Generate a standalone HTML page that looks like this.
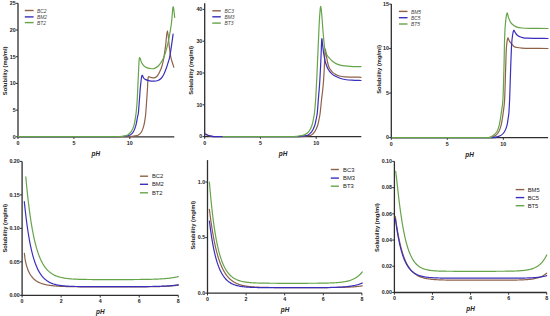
<!DOCTYPE html>
<html><head><meta charset="utf-8"><style>
html,body{margin:0;padding:0;background:#fff;}
body{width:550px;height:316px;overflow:hidden;}
svg{display:block;}
text{font-family:"Liberation Sans",sans-serif;fill:#222;}
.t{font-size:5.3px;font-weight:bold;}
.yl{font-size:5.8px;font-weight:bold;}
.ph{font-size:6.4px;font-style:italic;font-weight:bold;}
.lgi{font-size:4.9px;font-style:italic;fill:#444;}
.lg{font-size:5.8px;}
</style></head><body>
<svg width="550" height="316" viewBox="0 0 550 316">
<rect width="550" height="316" fill="#fff"/>
<line x1="18.00" y1="3.30" x2="18.00" y2="137.40" stroke="#2e2e2e" stroke-width="1.3"/>
<line x1="17.40" y1="136.80" x2="174.30" y2="136.80" stroke="#2e2e2e" stroke-width="1.3"/>
<line x1="15.80" y1="136.80" x2="18.00" y2="136.80" stroke="#2e2e2e" stroke-width="1"/>
<text x="15.60" y="138.64" text-anchor="end" class="t">0</text>
<line x1="15.80" y1="110.10" x2="18.00" y2="110.10" stroke="#2e2e2e" stroke-width="1"/>
<text x="15.60" y="111.94" text-anchor="end" class="t">5</text>
<line x1="15.80" y1="83.40" x2="18.00" y2="83.40" stroke="#2e2e2e" stroke-width="1"/>
<text x="15.60" y="85.24" text-anchor="end" class="t">10</text>
<line x1="15.80" y1="56.70" x2="18.00" y2="56.70" stroke="#2e2e2e" stroke-width="1"/>
<text x="15.60" y="58.54" text-anchor="end" class="t">15</text>
<line x1="15.80" y1="30.00" x2="18.00" y2="30.00" stroke="#2e2e2e" stroke-width="1"/>
<text x="15.60" y="31.84" text-anchor="end" class="t">20</text>
<line x1="15.80" y1="3.30" x2="18.00" y2="3.30" stroke="#2e2e2e" stroke-width="1"/>
<text x="15.60" y="5.14" text-anchor="end" class="t">25</text>
<line x1="18.00" y1="136.80" x2="18.00" y2="139.00" stroke="#2e2e2e" stroke-width="1"/>
<text x="18.00" y="144.94" text-anchor="middle" class="t">0</text>
<line x1="73.90" y1="136.80" x2="73.90" y2="139.00" stroke="#2e2e2e" stroke-width="1"/>
<text x="73.90" y="144.94" text-anchor="middle" class="t">5</text>
<line x1="129.80" y1="136.80" x2="129.80" y2="139.00" stroke="#2e2e2e" stroke-width="1"/>
<text x="129.80" y="144.94" text-anchor="middle" class="t">10</text>
<text transform="translate(6.80,70.85) rotate(-90)" text-anchor="middle" class="yl">Solubility (mg/ml)</text>
<text x="95.80" y="155.60" text-anchor="middle" class="ph">pH</text>
<path d="M18.00,136.60 C31.67,136.60 82.67,136.60 100.00,136.60 C117.33,136.60 117.00,136.62 122.00,136.60 C127.00,136.58 128.00,136.60 130.00,136.50 C132.00,136.40 132.60,136.27 134.00,136.00 C135.40,135.73 137.13,135.62 138.40,134.90 C139.67,134.18 140.68,133.30 141.60,131.70 C142.52,130.10 143.30,127.58 143.90,125.30 C144.50,123.02 144.88,120.10 145.20,118.00 C145.52,115.90 145.55,115.70 145.80,112.70 C146.05,109.70 146.42,104.12 146.70,100.00 C146.98,95.88 147.25,91.75 147.50,88.00 C147.75,84.25 147.70,79.28 148.20,77.50 C148.70,75.72 149.53,77.25 150.50,77.30 C151.47,77.35 152.92,77.98 154.00,77.80 C155.08,77.62 156.10,77.08 157.00,76.20 C157.90,75.32 158.57,74.20 159.40,72.50 C160.23,70.80 161.23,68.58 162.00,66.00 C162.77,63.42 163.40,60.40 164.00,57.00 C164.60,53.60 165.03,49.97 165.60,45.60 C166.17,41.23 166.80,30.80 167.40,30.80 C168.00,30.80 168.63,41.23 169.20,45.60 C169.77,49.97 170.28,54.18 170.80,57.00 C171.32,59.82 171.80,60.80 172.30,62.50 C172.80,64.20 173.55,66.42 173.80,67.20" fill="none" stroke="#8e6248" stroke-width="1.20" stroke-linejoin="round" stroke-linecap="round"/>
<path d="M18.00,136.60 C31.67,136.60 84.00,136.60 100.00,136.60 C116.00,136.60 110.33,136.62 114.00,136.60 C117.67,136.58 120.00,136.60 122.00,136.50 C124.00,136.40 124.63,136.27 126.00,136.00 C127.37,135.73 128.97,135.62 130.20,134.90 C131.43,134.18 132.45,133.30 133.40,131.70 C134.35,130.10 135.22,127.75 135.90,125.30 C136.58,122.85 137.08,119.10 137.50,117.00 C137.92,114.90 138.08,115.53 138.40,112.70 C138.72,109.87 139.05,104.45 139.40,100.00 C139.75,95.55 140.08,90.07 140.50,86.00 C140.92,81.93 141.40,76.97 141.90,75.60 C142.40,74.23 142.95,77.17 143.50,77.80 C144.05,78.43 144.15,78.88 145.20,79.40 C146.25,79.92 148.33,80.60 149.80,80.90 C151.27,81.20 152.63,81.27 154.00,81.20 C155.37,81.13 156.83,80.95 158.00,80.50 C159.17,80.05 160.08,79.42 161.00,78.50 C161.92,77.58 162.62,76.70 163.50,75.00 C164.38,73.30 165.50,70.47 166.30,68.30 C167.10,66.13 167.73,63.88 168.30,62.00 C168.87,60.12 169.17,59.73 169.70,57.00 C170.23,54.27 170.93,49.40 171.50,45.60 C172.07,41.80 172.83,36.10 173.10,34.20" fill="none" stroke="#3a2fbc" stroke-width="1.20" stroke-linejoin="round" stroke-linecap="round"/>
<path d="M18.00,136.60 C31.67,136.60 84.33,136.60 100.00,136.60 C115.67,136.60 108.67,136.62 112.00,136.60 C115.33,136.58 118.00,136.58 120.00,136.50 C122.00,136.42 122.72,136.37 124.00,136.10 C125.28,135.83 126.50,135.63 127.70,134.90 C128.90,134.17 130.15,133.30 131.20,131.70 C132.25,130.10 133.25,127.92 134.00,125.30 C134.75,122.68 135.28,118.72 135.70,116.00 C136.12,113.28 136.25,111.67 136.50,109.00 C136.75,106.33 136.88,105.70 137.20,100.00 C137.52,94.30 138.03,81.78 138.40,74.80 C138.77,67.82 138.88,60.15 139.40,58.10 C139.92,56.05 140.78,61.23 141.50,62.50 C142.22,63.77 142.87,64.85 143.70,65.70 C144.53,66.55 145.48,67.15 146.50,67.60 C147.52,68.05 148.55,68.23 149.80,68.40 C151.05,68.57 152.58,69.00 154.00,68.60 C155.42,68.20 157.13,67.02 158.30,66.00 C159.47,64.98 160.05,64.00 161.00,62.50 C161.95,61.00 162.93,59.82 164.00,57.00 C165.07,54.18 166.45,49.40 167.40,45.60 C168.35,41.80 169.02,38.00 169.70,34.20 C170.38,30.40 170.93,27.37 171.50,22.80 C172.07,18.23 172.57,7.72 173.10,6.80 C173.63,5.88 174.43,15.55 174.70,17.30" fill="none" stroke="#66a44a" stroke-width="1.20" stroke-linejoin="round" stroke-linecap="round"/>
<line x1="24.80" y1="10.50" x2="33.60" y2="10.50" stroke="#8e6248" stroke-width="1.4"/>
<text x="37.00" y="12.66" class="lgi">BC2</text>
<line x1="24.80" y1="16.90" x2="33.60" y2="16.90" stroke="#3a2fbc" stroke-width="1.4"/>
<text x="37.00" y="19.06" class="lgi">BM2</text>
<line x1="24.80" y1="22.60" x2="33.60" y2="22.60" stroke="#66a44a" stroke-width="1.4"/>
<text x="37.00" y="24.76" class="lgi">BT2</text>
<line x1="204.70" y1="3.20" x2="204.70" y2="137.20" stroke="#2e2e2e" stroke-width="1.3"/>
<line x1="204.10" y1="136.60" x2="361.30" y2="136.60" stroke="#2e2e2e" stroke-width="1.3"/>
<line x1="202.50" y1="136.60" x2="204.70" y2="136.60" stroke="#2e2e2e" stroke-width="1"/>
<text x="202.30" y="138.44" text-anchor="end" class="t">0</text>
<line x1="202.50" y1="104.80" x2="204.70" y2="104.80" stroke="#2e2e2e" stroke-width="1"/>
<text x="202.30" y="106.64" text-anchor="end" class="t">10</text>
<line x1="202.50" y1="73.00" x2="204.70" y2="73.00" stroke="#2e2e2e" stroke-width="1"/>
<text x="202.30" y="74.84" text-anchor="end" class="t">20</text>
<line x1="202.50" y1="41.20" x2="204.70" y2="41.20" stroke="#2e2e2e" stroke-width="1"/>
<text x="202.30" y="43.04" text-anchor="end" class="t">30</text>
<line x1="202.50" y1="9.40" x2="204.70" y2="9.40" stroke="#2e2e2e" stroke-width="1"/>
<text x="202.30" y="11.24" text-anchor="end" class="t">40</text>
<line x1="204.70" y1="136.60" x2="204.70" y2="138.80" stroke="#2e2e2e" stroke-width="1"/>
<text x="204.70" y="144.74" text-anchor="middle" class="t">0</text>
<line x1="260.45" y1="136.60" x2="260.45" y2="138.80" stroke="#2e2e2e" stroke-width="1"/>
<text x="260.45" y="144.74" text-anchor="middle" class="t">5</text>
<line x1="316.20" y1="136.60" x2="316.20" y2="138.80" stroke="#2e2e2e" stroke-width="1"/>
<text x="316.20" y="144.74" text-anchor="middle" class="t">10</text>
<text transform="translate(193.30,70.35) rotate(-90)" text-anchor="middle" class="yl">Solubility (mg/ml)</text>
<text x="283.00" y="156.10" text-anchor="middle" class="ph">pH</text>
<path d="M205.40,134.40 C205.67,134.52 206.40,134.87 207.00,135.10 C207.60,135.33 208.17,135.60 209.00,135.80 C209.83,136.00 210.17,136.17 212.00,136.30 C213.83,136.43 206.17,136.55 220.00,136.60 C233.83,136.65 281.17,136.63 295.00,136.60 C308.83,136.57 300.92,136.53 303.00,136.40 C305.08,136.27 306.10,136.05 307.50,135.80 C308.90,135.55 310.18,135.58 311.40,134.90 C312.62,134.22 313.75,133.30 314.80,131.70 C315.85,130.10 316.95,127.58 317.70,125.30 C318.45,123.02 318.88,120.10 319.30,118.00 C319.72,115.90 319.83,115.70 320.20,112.70 C320.57,109.70 321.08,103.78 321.50,100.00 C321.92,96.22 322.35,93.33 322.70,90.00 C323.05,86.67 323.35,83.33 323.60,80.00 C323.85,76.67 324.02,73.67 324.20,70.00 C324.38,66.33 324.53,61.47 324.70,58.00 C324.87,54.53 324.95,49.78 325.20,49.20 C325.45,48.62 325.82,52.37 326.20,54.50 C326.58,56.63 327.03,59.87 327.50,62.00 C327.97,64.13 328.38,65.87 329.00,67.30 C329.62,68.73 330.50,69.67 331.20,70.60 C331.90,71.53 332.40,72.23 333.20,72.90 C334.00,73.57 335.03,74.10 336.00,74.60 C336.97,75.10 337.50,75.53 339.00,75.90 C340.50,76.27 341.33,76.57 345.00,76.80 C348.67,77.03 358.33,77.22 361.00,77.30" fill="none" stroke="#8e6248" stroke-width="1.20" stroke-linejoin="round" stroke-linecap="round"/>
<path d="M205.40,133.90 C205.67,134.05 206.40,134.52 207.00,134.80 C207.60,135.08 208.33,135.38 209.00,135.60 C209.67,135.82 210.17,135.95 211.00,136.10 C211.83,136.25 212.50,136.42 214.00,136.50 C215.50,136.58 207.33,136.58 220.00,136.60 C232.67,136.62 276.67,136.63 290.00,136.60 C303.33,136.57 297.58,136.53 300.00,136.40 C302.42,136.27 303.13,136.05 304.50,135.80 C305.87,135.55 306.98,135.58 308.20,134.90 C309.42,134.22 310.70,133.30 311.80,131.70 C312.90,130.10 314.03,127.58 314.80,125.30 C315.57,123.02 315.98,120.10 316.40,118.00 C316.82,115.90 316.98,115.70 317.30,112.70 C317.62,109.70 317.92,104.78 318.30,100.00 C318.68,95.22 319.22,89.67 319.60,84.00 C319.98,78.33 320.33,71.33 320.60,66.00 C320.87,60.67 321.00,56.53 321.20,52.00 C321.40,47.47 321.57,39.97 321.80,38.80 C322.03,37.63 322.30,42.63 322.60,45.00 C322.90,47.37 323.17,50.25 323.60,53.00 C324.03,55.75 324.60,59.12 325.20,61.50 C325.80,63.88 326.62,65.88 327.20,67.30 C327.78,68.72 328.15,69.13 328.70,70.00 C329.25,70.87 329.62,71.58 330.50,72.50 C331.38,73.42 332.42,74.55 334.00,75.50 C335.58,76.45 338.17,77.53 340.00,78.20 C341.83,78.87 343.00,79.17 345.00,79.50 C347.00,79.83 349.33,80.03 352.00,80.20 C354.67,80.37 359.50,80.45 361.00,80.50" fill="none" stroke="#3a2fbc" stroke-width="1.20" stroke-linejoin="round" stroke-linecap="round"/>
<path d="M223.00,136.60 C232.50,136.60 268.83,136.60 280.00,136.60 C291.17,136.60 287.20,136.65 290.00,136.60 C292.80,136.55 294.97,136.45 296.80,136.30 C298.63,136.15 299.73,135.93 301.00,135.70 C302.27,135.47 303.10,135.57 304.40,134.90 C305.70,134.23 307.53,133.30 308.80,131.70 C310.07,130.10 311.20,127.58 312.00,125.30 C312.80,123.02 313.18,120.10 313.60,118.00 C314.02,115.90 314.17,115.70 314.50,112.70 C314.83,109.70 315.25,105.12 315.60,100.00 C315.95,94.88 316.28,88.33 316.60,82.00 C316.92,75.67 317.15,69.83 317.50,62.00 C317.85,54.17 318.35,42.50 318.70,35.00 C319.05,27.50 319.28,21.75 319.60,17.00 C319.92,12.25 320.25,7.00 320.60,6.50 C320.95,6.00 321.32,10.08 321.70,14.00 C322.08,17.92 322.52,25.33 322.90,30.00 C323.28,34.67 323.68,38.83 324.00,42.00 C324.32,45.17 324.33,46.87 324.80,49.00 C325.27,51.13 326.02,53.27 326.80,54.80 C327.58,56.33 328.55,57.12 329.50,58.20 C330.45,59.28 331.42,60.40 332.50,61.30 C333.58,62.20 334.58,62.93 336.00,63.60 C337.42,64.27 338.67,64.85 341.00,65.30 C343.33,65.75 346.67,66.08 350.00,66.30 C353.33,66.52 359.17,66.55 361.00,66.60" fill="none" stroke="#66a44a" stroke-width="1.20" stroke-linejoin="round" stroke-linecap="round"/>
<line x1="212.30" y1="10.80" x2="220.80" y2="10.80" stroke="#8e6248" stroke-width="1.4"/>
<text x="224.50" y="12.96" class="lgi">BC3</text>
<line x1="212.30" y1="16.80" x2="220.80" y2="16.80" stroke="#3a2fbc" stroke-width="1.4"/>
<text x="224.50" y="18.96" class="lgi">BM3</text>
<line x1="212.30" y1="23.10" x2="220.80" y2="23.10" stroke="#66a44a" stroke-width="1.4"/>
<text x="224.50" y="25.26" class="lgi">BT3</text>
<line x1="391.30" y1="4.10" x2="391.30" y2="138.20" stroke="#2e2e2e" stroke-width="1.3"/>
<line x1="390.70" y1="137.60" x2="548.10" y2="137.60" stroke="#2e2e2e" stroke-width="1.3"/>
<line x1="389.10" y1="137.60" x2="391.30" y2="137.60" stroke="#2e2e2e" stroke-width="1"/>
<text x="388.90" y="139.44" text-anchor="end" class="t">0</text>
<line x1="389.10" y1="93.10" x2="391.30" y2="93.10" stroke="#2e2e2e" stroke-width="1"/>
<text x="388.90" y="94.94" text-anchor="end" class="t">5</text>
<line x1="389.10" y1="48.60" x2="391.30" y2="48.60" stroke="#2e2e2e" stroke-width="1"/>
<text x="388.90" y="50.44" text-anchor="end" class="t">10</text>
<line x1="389.10" y1="4.10" x2="391.30" y2="4.10" stroke="#2e2e2e" stroke-width="1"/>
<text x="388.90" y="5.94" text-anchor="end" class="t">15</text>
<line x1="391.30" y1="137.60" x2="391.30" y2="139.80" stroke="#2e2e2e" stroke-width="1"/>
<text x="391.30" y="145.74" text-anchor="middle" class="t">0</text>
<line x1="447.30" y1="137.60" x2="447.30" y2="139.80" stroke="#2e2e2e" stroke-width="1"/>
<text x="447.30" y="145.74" text-anchor="middle" class="t">5</text>
<line x1="503.30" y1="137.60" x2="503.30" y2="139.80" stroke="#2e2e2e" stroke-width="1"/>
<text x="503.30" y="145.74" text-anchor="middle" class="t">10</text>
<text transform="translate(381.30,69.50) rotate(-90)" text-anchor="middle" class="yl">Solubility (mg/ml)</text>
<text x="469.50" y="156.50" text-anchor="middle" class="ph">pH</text>
<path d="M392.00,137.60 C407.33,137.60 467.50,137.63 484.00,137.60 C500.50,137.57 489.07,137.75 491.00,137.40 C492.93,137.05 494.30,136.45 495.60,135.50 C496.90,134.55 497.88,133.40 498.80,131.70 C499.72,130.00 500.50,127.58 501.10,125.30 C501.70,123.02 502.05,120.10 502.40,118.00 C502.75,115.90 502.83,115.70 503.20,112.70 C503.57,109.70 504.20,107.12 504.60,100.00 C505.00,92.88 505.30,78.67 505.60,70.00 C505.90,61.33 506.03,53.30 506.40,48.00 C506.77,42.70 507.33,39.40 507.80,38.20 C508.27,37.00 508.60,39.88 509.20,40.80 C509.80,41.72 510.60,42.77 511.40,43.70 C512.20,44.63 513.07,45.77 514.00,46.40 C514.93,47.03 515.67,47.22 517.00,47.50 C518.33,47.78 519.83,47.95 522.00,48.10 C524.17,48.25 525.67,48.33 530.00,48.40 C534.33,48.47 545.00,48.48 548.00,48.50" fill="none" stroke="#8e6248" stroke-width="1.20" stroke-linejoin="round" stroke-linecap="round"/>
<path d="M392.00,137.60 C407.67,137.60 468.95,137.63 486.00,137.60 C503.05,137.57 491.85,137.75 494.30,137.40 C496.75,137.05 499.00,136.45 500.70,135.50 C502.40,134.55 503.45,133.40 504.50,131.70 C505.55,130.00 506.38,127.58 507.00,125.30 C507.62,123.02 507.88,120.10 508.20,118.00 C508.52,115.90 508.67,115.70 508.90,112.70 C509.13,109.70 509.32,107.12 509.60,100.00 C509.88,92.88 510.27,79.17 510.60,70.00 C510.93,60.83 511.27,50.83 511.60,45.00 C511.93,39.17 512.23,37.45 512.60,35.00 C512.97,32.55 513.37,30.72 513.80,30.30 C514.23,29.88 514.67,31.72 515.20,32.50 C515.73,33.28 516.28,34.32 517.00,35.00 C517.72,35.68 518.72,36.20 519.50,36.60 C520.28,37.00 520.28,37.13 521.70,37.40 C523.12,37.67 523.62,38.02 528.00,38.20 C532.38,38.38 544.67,38.45 548.00,38.50" fill="none" stroke="#3a2fbc" stroke-width="1.20" stroke-linejoin="round" stroke-linecap="round"/>
<path d="M392.00,137.60 C407.00,137.60 465.78,137.63 482.00,137.60 C498.22,137.57 487.45,137.75 489.30,137.40 C491.15,137.05 491.83,136.45 493.10,135.50 C494.37,134.55 495.88,133.40 496.90,131.70 C497.92,130.00 498.60,127.58 499.20,125.30 C499.80,123.02 500.15,120.10 500.50,118.00 C500.85,115.90 500.90,115.70 501.30,112.70 C501.70,109.70 502.47,107.12 502.90,100.00 C503.33,92.88 503.63,79.67 503.90,70.00 C504.17,60.33 504.27,49.50 504.50,42.00 C504.73,34.50 504.88,29.80 505.30,25.00 C505.72,20.20 506.47,14.45 507.00,13.20 C507.53,11.95 507.90,15.97 508.50,17.50 C509.10,19.03 509.77,21.12 510.60,22.40 C511.43,23.68 512.43,24.42 513.50,25.20 C514.57,25.98 515.58,26.63 517.00,27.10 C518.42,27.57 519.83,27.78 522.00,28.00 C524.17,28.22 525.67,28.32 530.00,28.40 C534.33,28.48 545.00,28.48 548.00,28.50" fill="none" stroke="#66a44a" stroke-width="1.20" stroke-linejoin="round" stroke-linecap="round"/>
<line x1="398.90" y1="11.40" x2="407.50" y2="11.40" stroke="#8e6248" stroke-width="1.4"/>
<text x="411.00" y="13.56" class="lgi">BM5</text>
<line x1="398.90" y1="17.70" x2="407.50" y2="17.70" stroke="#3a2fbc" stroke-width="1.4"/>
<text x="411.00" y="19.86" class="lgi">BC5</text>
<line x1="398.90" y1="24.00" x2="407.50" y2="24.00" stroke="#66a44a" stroke-width="1.4"/>
<text x="411.00" y="26.16" class="lgi">BT5</text>
<line x1="22.10" y1="161.40" x2="22.10" y2="295.90" stroke="#2e2e2e" stroke-width="1.3"/>
<line x1="21.50" y1="295.30" x2="178.30" y2="295.30" stroke="#2e2e2e" stroke-width="1.3"/>
<line x1="19.90" y1="295.30" x2="22.10" y2="295.30" stroke="#2e2e2e" stroke-width="1"/>
<text x="19.70" y="297.14" text-anchor="end" class="t">0.00</text>
<line x1="19.90" y1="261.82" x2="22.10" y2="261.82" stroke="#2e2e2e" stroke-width="1"/>
<text x="19.70" y="263.66" text-anchor="end" class="t">0.05</text>
<line x1="19.90" y1="228.35" x2="22.10" y2="228.35" stroke="#2e2e2e" stroke-width="1"/>
<text x="19.70" y="230.19" text-anchor="end" class="t">0.10</text>
<line x1="19.90" y1="194.88" x2="22.10" y2="194.88" stroke="#2e2e2e" stroke-width="1"/>
<text x="19.70" y="196.71" text-anchor="end" class="t">0.15</text>
<line x1="19.90" y1="161.40" x2="22.10" y2="161.40" stroke="#2e2e2e" stroke-width="1"/>
<text x="19.70" y="163.24" text-anchor="end" class="t">0.20</text>
<line x1="22.10" y1="295.30" x2="22.10" y2="297.50" stroke="#2e2e2e" stroke-width="1"/>
<text x="22.10" y="302.64" text-anchor="middle" class="t">0</text>
<line x1="61.14" y1="295.30" x2="61.14" y2="297.50" stroke="#2e2e2e" stroke-width="1"/>
<text x="61.14" y="302.64" text-anchor="middle" class="t">2</text>
<line x1="100.18" y1="295.30" x2="100.18" y2="297.50" stroke="#2e2e2e" stroke-width="1"/>
<text x="100.18" y="302.64" text-anchor="middle" class="t">4</text>
<line x1="139.22" y1="295.30" x2="139.22" y2="297.50" stroke="#2e2e2e" stroke-width="1"/>
<text x="139.22" y="302.64" text-anchor="middle" class="t">6</text>
<line x1="178.26" y1="295.30" x2="178.26" y2="297.50" stroke="#2e2e2e" stroke-width="1"/>
<text x="178.26" y="302.64" text-anchor="middle" class="t">8</text>
<text transform="translate(6.60,228.30) rotate(-90)" text-anchor="middle" class="yl">Solubility (mg/ml)</text>
<text x="100.30" y="314.00" text-anchor="middle" class="ph">pH</text>
<path d="M24.40,253.30 C24.48,254.08 24.73,256.71 24.90,257.97 C25.07,259.23 25.23,260.00 25.40,260.87 C25.57,261.74 25.73,262.48 25.90,263.20 C26.07,263.92 26.23,264.56 26.40,265.18 C26.57,265.80 26.73,266.36 26.90,266.89 C27.07,267.42 27.23,267.91 27.40,268.39 C27.57,268.87 27.73,269.31 27.90,269.74 C28.07,270.17 28.23,270.56 28.40,270.94 C28.57,271.32 28.73,271.69 28.90,272.04 C29.07,272.39 29.23,272.71 29.40,273.03 C29.57,273.34 29.73,273.64 29.90,273.93 C30.07,274.22 30.23,274.49 30.40,274.76 C30.57,275.03 30.73,275.28 30.90,275.53 C31.07,275.77 31.23,276.00 31.40,276.23 C31.57,276.46 31.73,276.67 31.90,276.88 C32.07,277.09 32.23,277.29 32.40,277.48 C32.57,277.67 32.73,277.86 32.90,278.04 C33.07,278.22 33.23,278.38 33.40,278.55 C33.57,278.72 33.73,278.88 33.90,279.03 C34.07,279.18 34.23,279.34 34.40,279.48 C34.57,279.62 34.73,279.76 34.90,279.90 C35.07,280.03 35.23,280.16 35.40,280.29 C35.57,280.42 35.73,280.54 35.90,280.66 C36.07,280.78 36.23,280.89 36.40,281.00 C36.57,281.11 36.73,281.22 36.90,281.32 C37.07,281.42 37.23,281.52 37.40,281.62 C37.57,281.72 37.73,281.81 37.90,281.90 C38.07,281.99 38.23,282.08 38.40,282.16 C38.57,282.25 38.73,282.33 38.90,282.41 C39.07,282.49 39.23,282.56 39.40,282.64 C39.57,282.71 39.73,282.79 39.90,282.86 C40.07,282.93 40.23,283.00 40.40,283.07 C40.57,283.14 40.73,283.20 40.90,283.26 C41.07,283.32 41.23,283.39 41.40,283.45 C41.57,283.51 41.73,283.56 41.90,283.62 C42.07,283.68 42.23,283.73 42.40,283.78 C42.57,283.83 42.73,283.89 42.90,283.94 C43.07,283.99 43.23,284.04 43.40,284.09 C43.57,284.14 43.73,284.18 43.90,284.22 C44.07,284.26 44.15,284.29 44.40,284.35 C44.65,284.41 45.07,284.51 45.40,284.59 C45.73,284.67 46.07,284.74 46.40,284.81 C46.73,284.88 47.07,284.94 47.40,285.00 C47.73,285.06 48.07,285.12 48.40,285.18 C48.73,285.24 49.07,285.28 49.40,285.33 C49.73,285.38 50.07,285.43 50.40,285.47 C50.73,285.52 51.07,285.56 51.40,285.60 C51.73,285.64 52.07,285.68 52.40,285.72 C52.73,285.76 53.07,285.79 53.40,285.82 C53.73,285.85 54.07,285.88 54.40,285.91 C54.73,285.94 55.07,285.97 55.40,286.00 C55.73,286.03 56.07,286.06 56.40,286.08 C56.73,286.10 57.07,286.13 57.40,286.15 C57.73,286.17 58.07,286.19 58.40,286.21 C58.73,286.23 59.07,286.25 59.40,286.27 C59.73,286.29 60.07,286.30 60.40,286.32 C60.73,286.34 61.07,286.36 61.40,286.37 C61.73,286.38 62.07,286.40 62.40,286.41 C62.73,286.42 63.07,286.44 63.40,286.45 C63.73,286.46 64.07,286.48 64.40,286.49 C64.73,286.50 65.07,286.51 65.40,286.52 C65.73,286.53 66.07,286.54 66.40,286.55 C66.73,286.56 67.07,286.57 67.40,286.58 C67.73,286.59 68.07,286.60 68.40,286.61 C68.73,286.62 69.07,286.62 69.40,286.63 C69.73,286.64 70.07,286.64 70.40,286.65 C70.73,286.66 71.07,286.66 71.40,286.67 C71.73,286.68 72.07,286.68 72.40,286.69 C72.73,286.70 73.07,286.70 73.40,286.71 C73.73,286.71 73.90,286.71 74.40,286.72 C74.90,286.73 75.73,286.74 76.40,286.75 C77.07,286.76 77.73,286.76 78.40,286.77 C79.07,286.78 79.73,286.79 80.40,286.79 C81.07,286.80 81.73,286.80 82.40,286.80 C83.07,286.81 83.73,286.81 84.40,286.82 C85.07,286.82 85.73,286.83 86.40,286.83 C87.07,286.83 87.73,286.84 88.40,286.84 C89.07,286.84 89.73,286.85 90.40,286.85 C91.07,286.85 91.73,286.85 92.40,286.85 C93.07,286.85 93.73,286.86 94.40,286.86 C95.07,286.86 95.73,286.87 96.40,286.87 C97.07,286.87 97.73,286.87 98.40,286.87 C99.07,286.87 99.73,286.87 100.40,286.87 C101.07,286.87 101.73,286.88 102.40,286.88 C103.07,286.88 103.73,286.88 104.40,286.88 C105.07,286.88 105.73,286.88 106.40,286.88 C107.07,286.88 107.73,286.88 108.40,286.88 C109.07,286.88 109.73,286.88 110.40,286.88 C111.07,286.88 111.73,286.88 112.40,286.88 C113.07,286.88 113.73,286.88 114.40,286.88 C115.07,286.88 115.73,286.88 116.40,286.88 C117.07,286.88 117.73,286.88 118.40,286.88 C119.07,286.88 119.73,286.88 120.40,286.88 C121.07,286.88 121.73,286.88 122.40,286.88 C123.07,286.88 123.73,286.88 124.40,286.88 C125.07,286.88 125.73,286.87 126.40,286.87 C127.07,286.87 127.73,286.87 128.40,286.87 C129.07,286.87 129.73,286.87 130.40,286.87 C131.07,286.87 131.73,286.86 132.40,286.86 C133.07,286.86 133.73,286.85 134.40,286.85 C135.07,286.85 135.73,286.85 136.40,286.85 C137.07,286.85 137.90,286.84 138.40,286.84 C138.90,286.84 139.07,286.83 139.40,286.83 C139.73,286.83 140.07,286.83 140.40,286.83 C140.73,286.83 141.07,286.82 141.40,286.82 C141.73,286.82 142.07,286.81 142.40,286.81 C142.73,286.81 143.07,286.81 143.40,286.81 C143.73,286.81 144.07,286.80 144.40,286.80 C144.73,286.80 145.07,286.79 145.40,286.79 C145.73,286.79 146.07,286.78 146.40,286.78 C146.73,286.78 147.07,286.77 147.40,286.77 C147.73,286.77 148.07,286.76 148.40,286.76 C148.73,286.76 149.07,286.75 149.40,286.75 C149.73,286.75 150.07,286.74 150.40,286.73 C150.73,286.73 151.07,286.73 151.40,286.72 C151.73,286.72 152.07,286.70 152.40,286.70 C152.73,286.69 153.07,286.69 153.40,286.69 C153.73,286.69 154.07,286.68 154.40,286.67 C154.73,286.66 155.07,286.66 155.40,286.65 C155.73,286.64 156.07,286.64 156.40,286.63 C156.73,286.62 157.07,286.61 157.40,286.60 C157.73,286.59 158.07,286.59 158.40,286.58 C158.73,286.57 159.07,286.56 159.40,286.55 C159.73,286.54 160.07,286.53 160.40,286.52 C160.73,286.51 161.07,286.49 161.40,286.48 C161.73,286.47 162.07,286.46 162.40,286.45 C162.73,286.44 163.07,286.42 163.40,286.41 C163.73,286.40 164.07,286.38 164.40,286.37 C164.73,286.36 165.07,286.34 165.40,286.32 C165.73,286.30 166.07,286.29 166.40,286.27 C166.73,286.25 167.07,286.23 167.40,286.21 C167.73,286.19 168.07,286.17 168.40,286.15 C168.73,286.13 169.07,286.11 169.40,286.09 C169.73,286.07 170.07,286.04 170.40,286.02 C170.73,286.00 171.07,285.97 171.40,285.94 C171.73,285.91 172.07,285.89 172.40,285.86 C172.73,285.83 173.07,285.80 173.40,285.77 C173.73,285.74 174.07,285.71 174.40,285.67 C174.73,285.63 175.07,285.60 175.40,285.56 C175.73,285.52 176.07,285.49 176.40,285.45 C176.73,285.41 177.08,285.36 177.40,285.32 C177.72,285.28 178.15,285.22 178.30,285.20" fill="none" stroke="#8e6248" stroke-width="1.20" stroke-linejoin="round" stroke-linecap="round"/>
<path d="M24.30,201.50 C24.38,202.31 24.63,204.79 24.80,206.37 C24.97,207.95 25.13,209.48 25.30,210.96 C25.47,212.44 25.63,213.88 25.80,215.28 C25.97,216.68 26.13,218.04 26.30,219.36 C26.47,220.68 26.63,221.96 26.80,223.21 C26.97,224.46 27.13,225.67 27.30,226.84 C27.47,228.01 27.63,229.15 27.80,230.26 C27.97,231.37 28.13,232.44 28.30,233.48 C28.47,234.52 28.63,235.54 28.80,236.52 C28.97,237.50 29.13,238.46 29.30,239.39 C29.47,240.32 29.63,241.22 29.80,242.09 C29.97,242.97 30.13,243.81 30.30,244.64 C30.47,245.46 30.63,246.26 30.80,247.04 C30.97,247.82 31.13,248.58 31.30,249.31 C31.47,250.04 31.63,250.75 31.80,251.44 C31.97,252.13 32.13,252.81 32.30,253.46 C32.47,254.11 32.63,254.75 32.80,255.36 C32.97,255.98 33.13,256.57 33.30,257.15 C33.47,257.73 33.63,258.29 33.80,258.84 C33.97,259.39 34.13,259.92 34.30,260.43 C34.47,260.94 34.63,261.44 34.80,261.93 C34.97,262.42 35.13,262.88 35.30,263.34 C35.47,263.80 35.63,264.25 35.80,264.68 C35.97,265.11 36.13,265.53 36.30,265.94 C36.47,266.35 36.63,266.74 36.80,267.12 C36.97,267.50 37.13,267.88 37.30,268.24 C37.47,268.60 37.63,268.95 37.80,269.29 C37.97,269.63 38.13,269.97 38.30,270.29 C38.47,270.61 38.63,270.93 38.80,271.23 C38.97,271.53 39.13,271.83 39.30,272.11 C39.47,272.39 39.63,272.67 39.80,272.94 C39.97,273.21 40.13,273.48 40.30,273.73 C40.47,273.99 40.63,274.23 40.80,274.47 C40.97,274.71 41.13,274.94 41.30,275.17 C41.47,275.40 41.63,275.62 41.80,275.83 C41.97,276.04 42.13,276.25 42.30,276.45 C42.47,276.65 42.63,276.84 42.80,277.03 C42.97,277.22 43.13,277.41 43.30,277.59 C43.47,277.77 43.63,277.94 43.80,278.11 C43.97,278.28 44.13,278.44 44.30,278.60 C44.47,278.76 44.55,278.84 44.80,279.06 C45.05,279.28 45.47,279.64 45.80,279.91 C46.13,280.18 46.47,280.42 46.80,280.66 C47.13,280.90 47.47,281.12 47.80,281.33 C48.13,281.54 48.47,281.74 48.80,281.93 C49.13,282.12 49.47,282.29 49.80,282.46 C50.13,282.63 50.47,282.78 50.80,282.93 C51.13,283.08 51.47,283.22 51.80,283.35 C52.13,283.48 52.47,283.60 52.80,283.72 C53.13,283.84 53.47,283.95 53.80,284.05 C54.13,284.15 54.47,284.25 54.80,284.34 C55.13,284.43 55.47,284.53 55.80,284.61 C56.13,284.69 56.47,284.77 56.80,284.84 C57.13,284.91 57.47,284.98 57.80,285.04 C58.13,285.11 58.47,285.17 58.80,285.23 C59.13,285.29 59.47,285.34 59.80,285.39 C60.13,285.44 60.47,285.49 60.80,285.54 C61.13,285.59 61.47,285.63 61.80,285.67 C62.13,285.71 62.47,285.75 62.80,285.78 C63.13,285.81 63.47,285.85 63.80,285.88 C64.13,285.91 64.47,285.94 64.80,285.97 C65.13,286.00 65.47,286.02 65.80,286.05 C66.13,286.08 66.47,286.11 66.80,286.13 C67.13,286.15 67.47,286.17 67.80,286.19 C68.13,286.21 68.47,286.23 68.80,286.25 C69.13,286.27 69.47,286.29 69.80,286.30 C70.13,286.31 70.47,286.33 70.80,286.34 C71.13,286.35 71.47,286.37 71.80,286.38 C72.13,286.39 72.47,286.41 72.80,286.42 C73.13,286.43 73.47,286.44 73.80,286.45 C74.13,286.46 74.30,286.47 74.80,286.48 C75.30,286.49 76.13,286.51 76.80,286.52 C77.47,286.53 78.13,286.55 78.80,286.56 C79.47,286.57 80.13,286.58 80.80,286.59 C81.47,286.60 82.13,286.60 82.80,286.61 C83.47,286.62 84.13,286.62 84.80,286.63 C85.47,286.63 86.13,286.63 86.80,286.64 C87.47,286.64 88.13,286.66 88.80,286.66 C89.47,286.66 90.13,286.66 90.80,286.66 C91.47,286.66 92.13,286.67 92.80,286.67 C93.47,286.67 94.13,286.68 94.80,286.68 C95.47,286.68 96.13,286.68 96.80,286.68 C97.47,286.68 98.13,286.68 98.80,286.68 C99.47,286.68 100.13,286.69 100.80,286.69 C101.47,286.69 102.13,286.69 102.80,286.69 C103.47,286.69 104.13,286.69 104.80,286.69 C105.47,286.69 106.13,286.69 106.80,286.69 C107.47,286.69 108.13,286.69 108.80,286.69 C109.47,286.69 110.13,286.69 110.80,286.69 C111.47,286.69 112.13,286.69 112.80,286.69 C113.47,286.69 114.13,286.69 114.80,286.69 C115.47,286.69 116.13,286.69 116.80,286.69 C117.47,286.69 118.13,286.69 118.80,286.69 C119.47,286.69 120.13,286.68 120.80,286.68 C121.47,286.68 122.13,286.68 122.80,286.68 C123.47,286.68 124.13,286.68 124.80,286.68 C125.47,286.68 126.13,286.67 126.80,286.67 C127.47,286.67 128.13,286.67 128.80,286.67 C129.47,286.67 130.13,286.66 130.80,286.66 C131.47,286.66 132.13,286.66 132.80,286.66 C133.47,286.66 134.13,286.65 134.80,286.65 C135.47,286.65 136.13,286.64 136.80,286.64 C137.47,286.64 138.30,286.63 138.80,286.63 C139.30,286.63 139.47,286.62 139.80,286.62 C140.13,286.62 140.47,286.62 140.80,286.62 C141.13,286.62 141.47,286.61 141.80,286.61 C142.13,286.61 142.47,286.60 142.80,286.60 C143.13,286.60 143.47,286.59 143.80,286.59 C144.13,286.59 144.47,286.58 144.80,286.58 C145.13,286.58 145.47,286.57 145.80,286.57 C146.13,286.57 146.47,286.56 146.80,286.56 C147.13,286.56 147.47,286.55 147.80,286.55 C148.13,286.55 148.47,286.55 148.80,286.54 C149.13,286.54 149.47,286.52 149.80,286.52 C150.13,286.51 150.47,286.51 150.80,286.51 C151.13,286.50 151.47,286.50 151.80,286.49 C152.13,286.48 152.47,286.48 152.80,286.47 C153.13,286.46 153.47,286.46 153.80,286.45 C154.13,286.44 154.47,286.44 154.80,286.43 C155.13,286.42 155.47,286.42 155.80,286.41 C156.13,286.40 156.47,286.39 156.80,286.38 C157.13,286.37 157.47,286.37 157.80,286.36 C158.13,286.35 158.47,286.34 158.80,286.33 C159.13,286.32 159.47,286.30 159.80,286.29 C160.13,286.28 160.47,286.27 160.80,286.26 C161.13,286.25 161.47,286.23 161.80,286.22 C162.13,286.21 162.47,286.19 162.80,286.18 C163.13,286.17 163.47,286.15 163.80,286.13 C164.13,286.11 164.47,286.10 164.80,286.08 C165.13,286.06 165.47,286.05 165.80,286.03 C166.13,286.01 166.47,285.99 166.80,285.97 C167.13,285.95 167.47,285.93 167.80,285.91 C168.13,285.89 168.47,285.87 168.80,285.84 C169.13,285.81 169.47,285.79 169.80,285.76 C170.13,285.73 170.47,285.71 170.80,285.68 C171.13,285.65 171.47,285.62 171.80,285.59 C172.13,285.56 172.47,285.53 172.80,285.50 C173.13,285.47 173.47,285.43 173.80,285.39 C174.13,285.35 174.47,285.32 174.80,285.28 C175.13,285.24 175.47,285.20 175.80,285.16 C176.13,285.12 176.47,285.07 176.80,285.02 C177.13,284.97 177.55,284.92 177.80,284.88 C178.05,284.84 178.22,284.81 178.30,284.80" fill="none" stroke="#3a2fbc" stroke-width="1.20" stroke-linejoin="round" stroke-linecap="round"/>
<path d="M25.80,176.80 C25.88,177.72 26.13,180.52 26.30,182.30 C26.47,184.08 26.63,185.81 26.80,187.50 C26.97,189.19 27.13,190.82 27.30,192.42 C27.47,194.02 27.63,195.57 27.80,197.08 C27.97,198.59 28.13,200.06 28.30,201.49 C28.47,202.92 28.63,204.31 28.80,205.67 C28.97,207.02 29.13,208.34 29.30,209.62 C29.47,210.90 29.63,212.15 29.80,213.36 C29.97,214.58 30.13,215.76 30.30,216.91 C30.47,218.06 30.63,219.17 30.80,220.26 C30.97,221.35 31.13,222.40 31.30,223.43 C31.47,224.46 31.63,225.46 31.80,226.43 C31.97,227.41 32.13,228.36 32.30,229.28 C32.47,230.20 32.63,231.10 32.80,231.97 C32.97,232.84 33.13,233.69 33.30,234.51 C33.47,235.33 33.63,236.14 33.80,236.92 C33.97,237.70 34.13,238.46 34.30,239.20 C34.47,239.94 34.63,240.66 34.80,241.36 C34.97,242.06 35.13,242.75 35.30,243.41 C35.47,244.07 35.63,244.71 35.80,245.34 C35.97,245.97 36.13,246.57 36.30,247.17 C36.47,247.76 36.63,248.35 36.80,248.91 C36.97,249.47 37.13,250.02 37.30,250.55 C37.47,251.08 37.63,251.60 37.80,252.10 C37.97,252.60 38.13,253.09 38.30,253.57 C38.47,254.05 38.63,254.51 38.80,254.96 C38.97,255.41 39.13,255.85 39.30,256.28 C39.47,256.71 39.63,257.12 39.80,257.53 C39.97,257.93 40.13,258.33 40.30,258.71 C40.47,259.09 40.63,259.46 40.80,259.82 C40.97,260.18 41.13,260.54 41.30,260.88 C41.47,261.22 41.63,261.56 41.80,261.88 C41.97,262.20 42.13,262.52 42.30,262.83 C42.47,263.14 42.63,263.44 42.80,263.73 C42.97,264.02 43.13,264.31 43.30,264.58 C43.47,264.85 43.63,265.12 43.80,265.38 C43.97,265.64 44.13,265.89 44.30,266.14 C44.47,266.39 44.63,266.63 44.80,266.86 C44.97,267.09 45.13,267.32 45.30,267.54 C45.47,267.76 45.63,267.97 45.80,268.18 C45.97,268.39 46.05,268.50 46.30,268.79 C46.55,269.08 46.97,269.56 47.30,269.92 C47.63,270.28 47.97,270.61 48.30,270.93 C48.63,271.25 48.97,271.54 49.30,271.83 C49.63,272.12 49.97,272.38 50.30,272.64 C50.63,272.89 50.97,273.13 51.30,273.36 C51.63,273.59 51.97,273.81 52.30,274.01 C52.63,274.21 52.97,274.41 53.30,274.59 C53.63,274.77 53.97,274.94 54.30,275.11 C54.63,275.28 54.97,275.43 55.30,275.58 C55.63,275.73 55.97,275.87 56.30,276.00 C56.63,276.13 56.97,276.25 57.30,276.37 C57.63,276.49 57.97,276.60 58.30,276.71 C58.63,276.82 58.97,276.91 59.30,277.01 C59.63,277.11 59.97,277.19 60.30,277.28 C60.63,277.36 60.97,277.44 61.30,277.52 C61.63,277.60 61.97,277.67 62.30,277.74 C62.63,277.81 62.97,277.87 63.30,277.93 C63.63,277.99 63.97,278.05 64.30,278.10 C64.63,278.16 64.97,278.21 65.30,278.26 C65.63,278.31 65.97,278.36 66.30,278.40 C66.63,278.44 66.97,278.48 67.30,278.52 C67.63,278.56 67.97,278.60 68.30,278.64 C68.63,278.68 68.97,278.71 69.30,278.74 C69.63,278.77 69.97,278.80 70.30,278.83 C70.63,278.86 70.97,278.88 71.30,278.91 C71.63,278.94 71.97,278.96 72.30,278.98 C72.63,279.00 72.97,279.02 73.30,279.04 C73.63,279.06 73.97,279.08 74.30,279.10 C74.63,279.12 74.97,279.13 75.30,279.15 C75.63,279.17 75.80,279.18 76.30,279.20 C76.80,279.22 77.63,279.26 78.30,279.28 C78.97,279.30 79.63,279.32 80.30,279.34 C80.97,279.36 81.63,279.38 82.30,279.39 C82.97,279.40 83.63,279.42 84.30,279.43 C84.97,279.44 85.63,279.46 86.30,279.47 C86.97,279.48 87.63,279.48 88.30,279.49 C88.97,279.50 89.63,279.50 90.30,279.51 C90.97,279.52 91.63,279.52 92.30,279.53 C92.97,279.53 93.63,279.54 94.30,279.54 C94.97,279.54 95.63,279.55 96.30,279.55 C96.97,279.55 97.63,279.56 98.30,279.56 C98.97,279.56 99.63,279.57 100.30,279.57 C100.97,279.57 101.63,279.57 102.30,279.57 C102.97,279.57 103.63,279.58 104.30,279.58 C104.97,279.58 105.63,279.58 106.30,279.58 C106.97,279.58 107.63,279.58 108.30,279.58 C108.97,279.58 109.63,279.58 110.30,279.58 C110.97,279.58 111.63,279.58 112.30,279.58 C112.97,279.58 113.63,279.58 114.30,279.58 C114.97,279.58 115.63,279.58 116.30,279.58 C116.97,279.58 117.63,279.58 118.30,279.58 C118.97,279.58 119.63,279.57 120.30,279.57 C120.97,279.57 121.63,279.57 122.30,279.57 C122.97,279.57 123.63,279.56 124.30,279.56 C124.97,279.56 125.63,279.56 126.30,279.56 C126.97,279.56 127.63,279.55 128.30,279.55 C128.97,279.55 129.63,279.54 130.30,279.54 C130.97,279.54 131.63,279.53 132.30,279.53 C132.97,279.53 133.63,279.52 134.30,279.52 C134.97,279.52 135.63,279.51 136.30,279.51 C136.97,279.50 137.80,279.50 138.30,279.49 C138.80,279.49 138.97,279.48 139.30,279.48 C139.63,279.48 139.97,279.47 140.30,279.47 C140.63,279.47 140.97,279.46 141.30,279.46 C141.63,279.46 141.97,279.45 142.30,279.45 C142.63,279.45 142.97,279.44 143.30,279.44 C143.63,279.44 143.97,279.43 144.30,279.42 C144.63,279.42 144.97,279.42 145.30,279.41 C145.63,279.41 145.97,279.40 146.30,279.39 C146.63,279.38 146.97,279.38 147.30,279.37 C147.63,279.36 147.97,279.36 148.30,279.35 C148.63,279.34 148.97,279.34 149.30,279.33 C149.63,279.32 149.97,279.32 150.30,279.31 C150.63,279.30 150.97,279.29 151.30,279.28 C151.63,279.27 151.97,279.27 152.30,279.26 C152.63,279.25 152.97,279.24 153.30,279.23 C153.63,279.22 153.97,279.20 154.30,279.19 C154.63,279.18 154.97,279.17 155.30,279.16 C155.63,279.15 155.97,279.13 156.30,279.12 C156.63,279.11 156.97,279.09 157.30,279.08 C157.63,279.06 157.97,279.05 158.30,279.03 C158.63,279.01 158.97,279.00 159.30,278.98 C159.63,278.96 159.97,278.95 160.30,278.93 C160.63,278.91 160.97,278.89 161.30,278.87 C161.63,278.85 161.97,278.83 162.30,278.81 C162.63,278.79 162.97,278.76 163.30,278.74 C163.63,278.72 163.97,278.70 164.30,278.67 C164.63,278.64 164.97,278.61 165.30,278.58 C165.63,278.55 165.97,278.53 166.30,278.50 C166.63,278.47 166.97,278.43 167.30,278.40 C167.63,278.37 167.97,278.34 168.30,278.30 C168.63,278.26 168.97,278.22 169.30,278.18 C169.63,278.14 169.97,278.10 170.30,278.06 C170.63,278.02 170.97,277.98 171.30,277.93 C171.63,277.88 171.97,277.83 172.30,277.78 C172.63,277.73 172.97,277.68 173.30,277.62 C173.63,277.56 173.97,277.51 174.30,277.45 C174.63,277.39 174.97,277.32 175.30,277.26 C175.63,277.19 175.97,277.13 176.30,277.06 C176.63,276.99 176.97,276.92 177.30,276.84 C177.63,276.76 178.13,276.64 178.30,276.60" fill="none" stroke="#66a44a" stroke-width="1.20" stroke-linejoin="round" stroke-linecap="round"/>
<line x1="139.90" y1="176.20" x2="148.10" y2="176.20" stroke="#8e6248" stroke-width="1.4"/>
<text x="151.90" y="178.29" class="lg">BC2</text>
<line x1="139.90" y1="184.30" x2="148.10" y2="184.30" stroke="#3a2fbc" stroke-width="1.4"/>
<text x="151.90" y="186.39" class="lg">BM2</text>
<line x1="139.90" y1="192.80" x2="148.10" y2="192.80" stroke="#66a44a" stroke-width="1.4"/>
<text x="151.90" y="194.89" class="lg">BT2</text>
<line x1="207.50" y1="160.10" x2="207.50" y2="293.80" stroke="#2e2e2e" stroke-width="1.3"/>
<line x1="206.90" y1="293.20" x2="361.90" y2="293.20" stroke="#2e2e2e" stroke-width="1.3"/>
<line x1="205.30" y1="293.20" x2="207.50" y2="293.20" stroke="#2e2e2e" stroke-width="1"/>
<text x="205.10" y="295.04" text-anchor="end" class="t">0.0</text>
<line x1="205.30" y1="237.60" x2="207.50" y2="237.60" stroke="#2e2e2e" stroke-width="1"/>
<text x="205.10" y="239.44" text-anchor="end" class="t">0.5</text>
<line x1="205.30" y1="182.00" x2="207.50" y2="182.00" stroke="#2e2e2e" stroke-width="1"/>
<text x="205.10" y="183.84" text-anchor="end" class="t">1.0</text>
<line x1="207.50" y1="293.20" x2="207.50" y2="295.40" stroke="#2e2e2e" stroke-width="1"/>
<text x="207.50" y="301.04" text-anchor="middle" class="t">0</text>
<line x1="246.10" y1="293.20" x2="246.10" y2="295.40" stroke="#2e2e2e" stroke-width="1"/>
<text x="246.10" y="301.04" text-anchor="middle" class="t">2</text>
<line x1="284.70" y1="293.20" x2="284.70" y2="295.40" stroke="#2e2e2e" stroke-width="1"/>
<text x="284.70" y="301.04" text-anchor="middle" class="t">4</text>
<line x1="323.30" y1="293.20" x2="323.30" y2="295.40" stroke="#2e2e2e" stroke-width="1"/>
<text x="323.30" y="301.04" text-anchor="middle" class="t">6</text>
<line x1="361.90" y1="293.20" x2="361.90" y2="295.40" stroke="#2e2e2e" stroke-width="1"/>
<text x="361.90" y="301.04" text-anchor="middle" class="t">8</text>
<text transform="translate(194.60,225.30) rotate(-90)" text-anchor="middle" class="yl">Solubility (mg/ml)</text>
<text x="285.00" y="312.40" text-anchor="middle" class="ph">pH</text>
<path d="M209.40,209.40 C209.48,210.08 209.73,212.16 209.90,213.49 C210.07,214.82 210.23,216.11 210.40,217.37 C210.57,218.63 210.73,219.86 210.90,221.05 C211.07,222.24 211.23,223.40 211.40,224.53 C211.57,225.66 211.73,226.76 211.90,227.83 C212.07,228.90 212.23,229.94 212.40,230.96 C212.57,231.98 212.73,232.97 212.90,233.93 C213.07,234.89 213.23,235.83 213.40,236.74 C213.57,237.65 213.73,238.54 213.90,239.40 C214.07,240.26 214.23,241.10 214.40,241.92 C214.57,242.74 214.73,243.53 214.90,244.31 C215.07,245.09 215.23,245.84 215.40,246.58 C215.57,247.32 215.73,248.03 215.90,248.73 C216.07,249.43 216.23,250.10 216.40,250.76 C216.57,251.42 216.73,252.06 216.90,252.69 C217.07,253.32 217.23,253.93 217.40,254.52 C217.57,255.11 217.73,255.69 217.90,256.25 C218.07,256.81 218.23,257.36 218.40,257.89 C218.57,258.42 218.73,258.94 218.90,259.44 C219.07,259.94 219.23,260.44 219.40,260.92 C219.57,261.40 219.73,261.86 219.90,262.31 C220.07,262.76 220.23,263.21 220.40,263.64 C220.57,264.07 220.73,264.48 220.90,264.89 C221.07,265.30 221.23,265.69 221.40,266.08 C221.57,266.47 221.73,266.84 221.90,267.21 C222.07,267.57 222.23,267.92 222.40,268.27 C222.57,268.62 222.73,268.96 222.90,269.29 C223.07,269.62 223.23,269.93 223.40,270.24 C223.57,270.55 223.73,270.85 223.90,271.15 C224.07,271.44 224.23,271.73 224.40,272.01 C224.57,272.29 224.73,272.56 224.90,272.83 C225.07,273.09 225.23,273.35 225.40,273.60 C225.57,273.85 225.73,274.10 225.90,274.34 C226.07,274.58 226.23,274.80 226.40,275.03 C226.57,275.25 226.73,275.48 226.90,275.69 C227.07,275.90 227.23,276.11 227.40,276.31 C227.57,276.51 227.73,276.71 227.90,276.90 C228.07,277.09 228.23,277.28 228.40,277.46 C228.57,277.64 228.73,277.82 228.90,277.99 C229.07,278.16 229.15,278.26 229.40,278.50 C229.65,278.74 230.07,279.13 230.40,279.42 C230.73,279.71 231.07,280.00 231.40,280.26 C231.73,280.52 232.07,280.77 232.40,281.01 C232.73,281.25 233.07,281.47 233.40,281.68 C233.73,281.89 234.07,282.09 234.40,282.28 C234.73,282.47 235.07,282.65 235.40,282.82 C235.73,282.99 236.07,283.15 236.40,283.31 C236.73,283.47 237.07,283.61 237.40,283.75 C237.73,283.89 238.07,284.02 238.40,284.14 C238.73,284.26 239.07,284.38 239.40,284.49 C239.73,284.60 240.07,284.71 240.40,284.81 C240.73,284.91 241.07,285.00 241.40,285.09 C241.73,285.18 242.07,285.27 242.40,285.35 C242.73,285.43 243.07,285.51 243.40,285.58 C243.73,285.65 244.07,285.73 244.40,285.79 C244.73,285.86 245.07,285.91 245.40,285.97 C245.73,286.03 246.07,286.09 246.40,286.14 C246.73,286.19 247.07,286.24 247.40,286.29 C247.73,286.34 248.07,286.38 248.40,286.42 C248.73,286.46 249.07,286.50 249.40,286.54 C249.73,286.58 250.07,286.62 250.40,286.65 C250.73,286.68 251.07,286.72 251.40,286.75 C251.73,286.78 252.07,286.80 252.40,286.83 C252.73,286.86 253.07,286.88 253.40,286.91 C253.73,286.94 254.07,286.96 254.40,286.98 C254.73,287.00 255.07,287.02 255.40,287.04 C255.73,287.06 256.07,287.08 256.40,287.10 C256.73,287.12 257.07,287.13 257.40,287.15 C257.73,287.17 258.07,287.19 258.40,287.20 C258.73,287.21 259.07,287.23 259.40,287.24 C259.73,287.25 259.90,287.26 260.40,287.28 C260.90,287.30 261.73,287.32 262.40,287.34 C263.07,287.36 263.73,287.38 264.40,287.39 C265.07,287.40 265.73,287.42 266.40,287.43 C267.07,287.44 267.73,287.45 268.40,287.46 C269.07,287.47 269.73,287.48 270.40,287.49 C271.07,287.50 271.73,287.50 272.40,287.51 C273.07,287.52 273.73,287.52 274.40,287.53 C275.07,287.53 275.73,287.54 276.40,287.54 C277.07,287.54 277.73,287.55 278.40,287.55 C279.07,287.55 279.73,287.56 280.40,287.56 C281.07,287.56 281.73,287.57 282.40,287.57 C283.07,287.57 283.73,287.57 284.40,287.57 C285.07,287.57 285.73,287.58 286.40,287.58 C287.07,287.58 287.73,287.58 288.40,287.58 C289.07,287.58 289.73,287.59 290.40,287.59 C291.07,287.59 291.73,287.59 292.40,287.59 C293.07,287.59 293.73,287.59 294.40,287.59 C295.07,287.59 295.73,287.59 296.40,287.59 C297.07,287.59 297.73,287.59 298.40,287.59 C299.07,287.59 299.73,287.59 300.40,287.59 C301.07,287.59 301.73,287.59 302.40,287.59 C303.07,287.59 303.73,287.59 304.40,287.59 C305.07,287.59 305.73,287.59 306.40,287.59 C307.07,287.59 307.73,287.59 308.40,287.59 C309.07,287.59 309.73,287.59 310.40,287.59 C311.07,287.59 311.73,287.59 312.40,287.59 C313.07,287.59 313.73,287.58 314.40,287.58 C315.07,287.58 315.73,287.58 316.40,287.58 C317.07,287.58 317.73,287.58 318.40,287.58 C319.07,287.58 319.73,287.57 320.40,287.57 C321.07,287.57 321.90,287.57 322.40,287.57 C322.90,287.57 323.07,287.56 323.40,287.56 C323.73,287.56 324.07,287.56 324.40,287.56 C324.73,287.56 325.07,287.55 325.40,287.55 C325.73,287.55 326.07,287.55 326.40,287.55 C326.73,287.55 327.07,287.54 327.40,287.54 C327.73,287.54 328.07,287.54 328.40,287.54 C328.73,287.54 329.07,287.53 329.40,287.53 C329.73,287.53 330.07,287.53 330.40,287.53 C330.73,287.53 331.07,287.52 331.40,287.52 C331.73,287.52 332.07,287.51 332.40,287.51 C332.73,287.51 333.07,287.50 333.40,287.50 C333.73,287.50 334.07,287.49 334.40,287.49 C334.73,287.49 335.07,287.49 335.40,287.48 C335.73,287.48 336.07,287.46 336.40,287.46 C336.73,287.45 337.07,287.45 337.40,287.45 C337.73,287.44 338.07,287.44 338.40,287.43 C338.73,287.43 339.07,287.43 339.40,287.42 C339.73,287.42 340.07,287.41 340.40,287.40 C340.73,287.39 341.07,287.39 341.40,287.38 C341.73,287.37 342.07,287.36 342.40,287.35 C342.73,287.34 343.07,287.34 343.40,287.33 C343.73,287.32 344.07,287.31 344.40,287.30 C344.73,287.29 345.07,287.28 345.40,287.27 C345.73,287.26 346.07,287.24 346.40,287.23 C346.73,287.22 347.07,287.20 347.40,287.19 C347.73,287.18 348.07,287.16 348.40,287.15 C348.73,287.13 349.07,287.12 349.40,287.10 C349.73,287.08 350.07,287.07 350.40,287.05 C350.73,287.03 351.07,287.01 351.40,286.99 C351.73,286.97 352.07,286.95 352.40,286.93 C352.73,286.91 353.07,286.88 353.40,286.86 C353.73,286.84 354.07,286.81 354.40,286.78 C354.73,286.75 355.07,286.73 355.40,286.70 C355.73,286.67 356.07,286.63 356.40,286.60 C356.73,286.57 357.07,286.54 357.40,286.50 C357.73,286.46 358.07,286.42 358.40,286.38 C358.73,286.34 359.07,286.30 359.40,286.25 C359.73,286.20 360.07,286.16 360.40,286.11 C360.73,286.06 361.08,286.00 361.40,285.95 C361.72,285.90 362.15,285.82 362.30,285.80" fill="none" stroke="#8e6248" stroke-width="1.20" stroke-linejoin="round" stroke-linecap="round"/>
<path d="M209.40,221.00 C209.48,221.67 209.73,223.73 209.90,225.04 C210.07,226.35 210.23,227.61 210.40,228.84 C210.57,230.07 210.73,231.25 210.90,232.40 C211.07,233.55 211.23,234.67 211.40,235.75 C211.57,236.83 211.73,237.88 211.90,238.90 C212.07,239.92 212.23,240.90 212.40,241.86 C212.57,242.82 212.73,243.74 212.90,244.64 C213.07,245.54 213.23,246.40 213.40,247.24 C213.57,248.08 213.73,248.91 213.90,249.70 C214.07,250.49 214.23,251.26 214.40,252.00 C214.57,252.74 214.73,253.46 214.90,254.16 C215.07,254.86 215.23,255.53 215.40,256.19 C215.57,256.85 215.73,257.48 215.90,258.10 C216.07,258.72 216.23,259.32 216.40,259.90 C216.57,260.48 216.73,261.04 216.90,261.58 C217.07,262.12 217.23,262.65 217.40,263.16 C217.57,263.67 217.73,264.17 217.90,264.65 C218.07,265.13 218.23,265.60 218.40,266.05 C218.57,266.50 218.73,266.94 218.90,267.36 C219.07,267.78 219.23,268.19 219.40,268.59 C219.57,268.99 219.73,269.38 219.90,269.75 C220.07,270.12 220.23,270.49 220.40,270.84 C220.57,271.19 220.73,271.53 220.90,271.86 C221.07,272.19 221.23,272.51 221.40,272.82 C221.57,273.13 221.73,273.43 221.90,273.72 C222.07,274.01 222.23,274.30 222.40,274.57 C222.57,274.84 222.73,275.10 222.90,275.36 C223.07,275.62 223.23,275.87 223.40,276.11 C223.57,276.35 223.73,276.58 223.90,276.81 C224.07,277.04 224.23,277.26 224.40,277.47 C224.57,277.68 224.73,277.89 224.90,278.09 C225.07,278.29 225.23,278.48 225.40,278.67 C225.57,278.86 225.73,279.04 225.90,279.22 C226.07,279.40 226.23,279.56 226.40,279.73 C226.57,279.90 226.73,280.06 226.90,280.22 C227.07,280.38 227.23,280.52 227.40,280.67 C227.57,280.82 227.73,280.96 227.90,281.10 C228.07,281.24 228.23,281.37 228.40,281.50 C228.57,281.63 228.73,281.75 228.90,281.87 C229.07,281.99 229.15,282.05 229.40,282.22 C229.65,282.39 230.07,282.67 230.40,282.87 C230.73,283.07 231.07,283.26 231.40,283.44 C231.73,283.62 232.07,283.78 232.40,283.94 C232.73,284.10 233.07,284.24 233.40,284.38 C233.73,284.52 234.07,284.65 234.40,284.77 C234.73,284.89 235.07,285.00 235.40,285.11 C235.73,285.22 236.07,285.32 236.40,285.42 C236.73,285.52 237.07,285.61 237.40,285.69 C237.73,285.77 238.07,285.85 238.40,285.92 C238.73,285.99 239.07,286.06 239.40,286.13 C239.73,286.20 240.07,286.26 240.40,286.32 C240.73,286.38 241.07,286.43 241.40,286.48 C241.73,286.53 242.07,286.57 242.40,286.62 C242.73,286.67 243.07,286.71 243.40,286.75 C243.73,286.79 244.07,286.83 244.40,286.86 C244.73,286.89 245.07,286.93 245.40,286.96 C245.73,286.99 246.07,287.02 246.40,287.05 C246.73,287.08 247.07,287.10 247.40,287.12 C247.73,287.14 248.07,287.17 248.40,287.19 C248.73,287.21 249.07,287.23 249.40,287.25 C249.73,287.27 250.07,287.28 250.40,287.30 C250.73,287.32 251.07,287.34 251.40,287.35 C251.73,287.37 252.07,287.38 252.40,287.39 C252.73,287.40 253.07,287.42 253.40,287.43 C253.73,287.44 254.07,287.45 254.40,287.46 C254.73,287.47 255.07,287.48 255.40,287.49 C255.73,287.50 256.07,287.50 256.40,287.51 C256.73,287.52 257.07,287.52 257.40,287.53 C257.73,287.54 258.07,287.54 258.40,287.55 C258.73,287.56 259.07,287.56 259.40,287.57 C259.73,287.58 259.90,287.58 260.40,287.59 C260.90,287.60 261.73,287.60 262.40,287.61 C263.07,287.62 263.73,287.62 264.40,287.63 C265.07,287.64 265.73,287.64 266.40,287.65 C267.07,287.65 267.73,287.66 268.40,287.66 C269.07,287.66 269.73,287.67 270.40,287.67 C271.07,287.67 271.73,287.67 272.40,287.67 C273.07,287.67 273.73,287.68 274.40,287.68 C275.07,287.68 275.73,287.68 276.40,287.68 C277.07,287.68 277.73,287.69 278.40,287.69 C279.07,287.69 279.73,287.69 280.40,287.69 C281.07,287.69 281.73,287.69 282.40,287.69 C283.07,287.69 283.73,287.69 284.40,287.69 C285.07,287.69 285.73,287.69 286.40,287.69 C287.07,287.69 287.73,287.69 288.40,287.69 C289.07,287.69 289.73,287.69 290.40,287.69 C291.07,287.69 291.73,287.69 292.40,287.69 C293.07,287.69 293.73,287.69 294.40,287.69 C295.07,287.69 295.73,287.69 296.40,287.69 C297.07,287.69 297.73,287.69 298.40,287.69 C299.07,287.69 299.73,287.69 300.40,287.69 C301.07,287.69 301.73,287.68 302.40,287.68 C303.07,287.68 303.73,287.68 304.40,287.68 C305.07,287.68 305.73,287.68 306.40,287.68 C307.07,287.68 307.73,287.67 308.40,287.67 C309.07,287.67 309.73,287.67 310.40,287.67 C311.07,287.67 311.73,287.66 312.40,287.66 C313.07,287.66 313.73,287.65 314.40,287.65 C315.07,287.65 315.73,287.64 316.40,287.64 C317.07,287.64 317.73,287.63 318.40,287.63 C319.07,287.62 319.73,287.62 320.40,287.61 C321.07,287.60 321.90,287.59 322.40,287.59 C322.90,287.58 323.07,287.58 323.40,287.58 C323.73,287.58 324.07,287.57 324.40,287.57 C324.73,287.57 325.07,287.56 325.40,287.56 C325.73,287.56 326.07,287.56 326.40,287.55 C326.73,287.55 327.07,287.54 327.40,287.53 C327.73,287.52 328.07,287.51 328.40,287.51 C328.73,287.50 329.07,287.51 329.40,287.50 C329.73,287.49 330.07,287.48 330.40,287.47 C330.73,287.46 331.07,287.46 331.40,287.45 C331.73,287.44 332.07,287.44 332.40,287.43 C332.73,287.42 333.07,287.41 333.40,287.40 C333.73,287.39 334.07,287.38 334.40,287.37 C334.73,287.36 335.07,287.35 335.40,287.34 C335.73,287.33 336.07,287.31 336.40,287.30 C336.73,287.29 337.07,287.27 337.40,287.26 C337.73,287.25 338.07,287.24 338.40,287.22 C338.73,287.21 339.07,287.19 339.40,287.17 C339.73,287.15 340.07,287.14 340.40,287.12 C340.73,287.10 341.07,287.08 341.40,287.06 C341.73,287.04 342.07,287.01 342.40,286.99 C342.73,286.97 343.07,286.94 343.40,286.92 C343.73,286.90 344.07,286.88 344.40,286.85 C344.73,286.82 345.07,286.79 345.40,286.76 C345.73,286.73 346.07,286.70 346.40,286.67 C346.73,286.64 347.07,286.60 347.40,286.56 C347.73,286.52 348.07,286.49 348.40,286.45 C348.73,286.41 349.07,286.36 349.40,286.32 C349.73,286.28 350.07,286.24 350.40,286.19 C350.73,286.14 351.07,286.09 351.40,286.04 C351.73,285.99 352.07,285.93 352.40,285.87 C352.73,285.81 353.07,285.75 353.40,285.69 C353.73,285.63 354.07,285.56 354.40,285.49 C354.73,285.42 355.07,285.34 355.40,285.26 C355.73,285.18 356.07,285.10 356.40,285.02 C356.73,284.94 357.07,284.84 357.40,284.75 C357.73,284.66 358.07,284.56 358.40,284.46 C358.73,284.36 359.07,284.24 359.40,284.13 C359.73,284.02 360.07,283.90 360.40,283.78 C360.73,283.66 361.08,283.52 361.40,283.39 C361.72,283.26 362.15,283.06 362.30,283.00" fill="none" stroke="#3a2fbc" stroke-width="1.20" stroke-linejoin="round" stroke-linecap="round"/>
<path d="M209.40,182.20 C209.48,183.20 209.73,186.25 209.90,188.18 C210.07,190.12 210.23,191.99 210.40,193.81 C210.57,195.63 210.73,197.39 210.90,199.10 C211.07,200.81 211.23,202.47 211.40,204.08 C211.57,205.69 211.73,207.25 211.90,208.77 C212.07,210.29 212.23,211.75 212.40,213.18 C212.57,214.61 212.73,215.98 212.90,217.32 C213.07,218.66 213.23,219.97 213.40,221.23 C213.57,222.49 213.73,223.71 213.90,224.90 C214.07,226.09 214.23,227.23 214.40,228.35 C214.57,229.47 214.73,230.55 214.90,231.60 C215.07,232.65 215.23,233.67 215.40,234.66 C215.57,235.65 215.73,236.61 215.90,237.54 C216.07,238.47 216.23,239.38 216.40,240.25 C216.57,241.12 216.73,241.97 216.90,242.79 C217.07,243.61 217.23,244.41 217.40,245.19 C217.57,245.97 217.73,246.71 217.90,247.44 C218.07,248.17 218.23,248.87 218.40,249.56 C218.57,250.25 218.73,250.91 218.90,251.56 C219.07,252.21 219.23,252.83 219.40,253.44 C219.57,254.05 219.73,254.63 219.90,255.20 C220.07,255.77 220.23,256.33 220.40,256.87 C220.57,257.41 220.73,257.93 220.90,258.43 C221.07,258.94 221.23,259.42 221.40,259.90 C221.57,260.38 221.73,260.84 221.90,261.29 C222.07,261.74 222.23,262.17 222.40,262.59 C222.57,263.01 222.73,263.41 222.90,263.81 C223.07,264.21 223.23,264.60 223.40,264.97 C223.57,265.34 223.73,265.70 223.90,266.05 C224.07,266.40 224.23,266.74 224.40,267.07 C224.57,267.40 224.73,267.72 224.90,268.03 C225.07,268.34 225.23,268.64 225.40,268.93 C225.57,269.22 225.73,269.50 225.90,269.78 C226.07,270.05 226.23,270.32 226.40,270.58 C226.57,270.84 226.73,271.10 226.90,271.34 C227.07,271.58 227.23,271.81 227.40,272.04 C227.57,272.27 227.73,272.49 227.90,272.71 C228.07,272.93 228.23,273.14 228.40,273.34 C228.57,273.54 228.73,273.73 228.90,273.92 C229.07,274.11 229.15,274.22 229.40,274.48 C229.65,274.74 230.07,275.17 230.40,275.49 C230.73,275.81 231.07,276.11 231.40,276.39 C231.73,276.67 232.07,276.93 232.40,277.18 C232.73,277.43 233.07,277.66 233.40,277.88 C233.73,278.10 234.07,278.31 234.40,278.51 C234.73,278.71 235.07,278.89 235.40,279.06 C235.73,279.23 236.07,279.39 236.40,279.54 C236.73,279.69 237.07,279.83 237.40,279.97 C237.73,280.11 238.07,280.24 238.40,280.36 C238.73,280.48 239.07,280.58 239.40,280.69 C239.73,280.80 240.07,280.89 240.40,280.99 C240.73,281.09 241.07,281.18 241.40,281.26 C241.73,281.34 242.07,281.42 242.40,281.49 C242.73,281.56 243.07,281.63 243.40,281.70 C243.73,281.76 244.07,281.82 244.40,281.88 C244.73,281.94 245.07,282.00 245.40,282.05 C245.73,282.10 246.07,282.14 246.40,282.19 C246.73,282.24 247.07,282.28 247.40,282.32 C247.73,282.36 248.07,282.39 248.40,282.43 C248.73,282.47 249.07,282.50 249.40,282.53 C249.73,282.56 250.07,282.59 250.40,282.62 C250.73,282.65 251.07,282.68 251.40,282.70 C251.73,282.72 252.07,282.75 252.40,282.77 C252.73,282.79 253.07,282.81 253.40,282.83 C253.73,282.85 254.07,282.86 254.40,282.88 C254.73,282.90 255.07,282.92 255.40,282.93 C255.73,282.94 256.07,282.96 256.40,282.97 C256.73,282.98 257.07,283.00 257.40,283.01 C257.73,283.02 258.07,283.03 258.40,283.04 C258.73,283.05 259.07,283.06 259.40,283.07 C259.73,283.08 259.90,283.09 260.40,283.10 C260.90,283.11 261.73,283.13 262.40,283.14 C263.07,283.15 263.73,283.17 264.40,283.18 C265.07,283.19 265.73,283.19 266.40,283.20 C267.07,283.21 267.73,283.21 268.40,283.22 C269.07,283.23 269.73,283.24 270.40,283.24 C271.07,283.25 271.73,283.25 272.40,283.25 C273.07,283.25 273.73,283.26 274.40,283.26 C275.07,283.26 275.73,283.27 276.40,283.27 C277.07,283.27 277.73,283.28 278.40,283.28 C279.07,283.28 279.73,283.28 280.40,283.28 C281.07,283.28 281.73,283.28 282.40,283.28 C283.07,283.28 283.73,283.29 284.40,283.29 C285.07,283.29 285.73,283.29 286.40,283.29 C287.07,283.29 287.73,283.29 288.40,283.29 C289.07,283.29 289.73,283.29 290.40,283.29 C291.07,283.29 291.73,283.29 292.40,283.29 C293.07,283.29 293.73,283.29 294.40,283.29 C295.07,283.29 295.73,283.29 296.40,283.29 C297.07,283.29 297.73,283.29 298.40,283.29 C299.07,283.29 299.73,283.29 300.40,283.29 C301.07,283.29 301.73,283.28 302.40,283.28 C303.07,283.28 303.73,283.28 304.40,283.28 C305.07,283.28 305.73,283.28 306.40,283.28 C307.07,283.28 307.73,283.27 308.40,283.27 C309.07,283.27 309.73,283.26 310.40,283.26 C311.07,283.26 311.73,283.26 312.40,283.26 C313.07,283.26 313.73,283.25 314.40,283.24 C315.07,283.24 315.73,283.24 316.40,283.23 C317.07,283.23 317.73,283.22 318.40,283.21 C319.07,283.20 319.73,283.20 320.40,283.19 C321.07,283.18 321.90,283.17 322.40,283.16 C322.90,283.15 323.07,283.15 323.40,283.15 C323.73,283.14 324.07,283.14 324.40,283.13 C324.73,283.12 325.07,283.12 325.40,283.11 C325.73,283.10 326.07,283.10 326.40,283.09 C326.73,283.08 327.07,283.07 327.40,283.06 C327.73,283.05 328.07,283.05 328.40,283.04 C328.73,283.03 329.07,283.02 329.40,283.01 C329.73,283.00 330.07,282.98 330.40,282.97 C330.73,282.96 331.07,282.94 331.40,282.93 C331.73,282.92 332.07,282.90 332.40,282.89 C332.73,282.88 333.07,282.86 333.40,282.84 C333.73,282.82 334.07,282.81 334.40,282.79 C334.73,282.77 335.07,282.75 335.40,282.73 C335.73,282.71 336.07,282.69 336.40,282.66 C336.73,282.63 337.07,282.61 337.40,282.58 C337.73,282.55 338.07,282.53 338.40,282.50 C338.73,282.47 339.07,282.43 339.40,282.40 C339.73,282.37 340.07,282.34 340.40,282.30 C340.73,282.26 341.07,282.22 341.40,282.18 C341.73,282.14 342.07,282.10 342.40,282.05 C342.73,282.00 343.07,281.95 343.40,281.90 C343.73,281.85 344.07,281.80 344.40,281.74 C344.73,281.68 345.07,281.62 345.40,281.56 C345.73,281.50 346.07,281.42 346.40,281.35 C346.73,281.28 347.07,281.20 347.40,281.12 C347.73,281.04 348.07,280.96 348.40,280.87 C348.73,280.78 349.07,280.68 349.40,280.58 C349.73,280.48 350.07,280.37 350.40,280.26 C350.73,280.15 351.07,280.02 351.40,279.90 C351.73,279.77 352.07,279.65 352.40,279.51 C352.73,279.37 353.07,279.22 353.40,279.06 C353.73,278.90 354.07,278.74 354.40,278.56 C354.73,278.38 355.07,278.20 355.40,278.00 C355.73,277.80 356.07,277.60 356.40,277.38 C356.73,277.16 357.07,276.94 357.40,276.69 C357.73,276.44 358.07,276.19 358.40,275.91 C358.73,275.64 359.07,275.35 359.40,275.04 C359.73,274.73 360.07,274.41 360.40,274.07 C360.73,273.73 361.08,273.34 361.40,272.98 C361.72,272.62 362.15,272.08 362.30,271.90" fill="none" stroke="#66a44a" stroke-width="1.20" stroke-linejoin="round" stroke-linecap="round"/>
<line x1="330.80" y1="169.50" x2="338.90" y2="169.50" stroke="#8e6248" stroke-width="1.4"/>
<text x="343.10" y="171.59" class="lg">BC3</text>
<line x1="330.80" y1="178.10" x2="338.90" y2="178.10" stroke="#3a2fbc" stroke-width="1.4"/>
<text x="343.10" y="180.19" class="lg">BM3</text>
<line x1="330.80" y1="186.20" x2="338.90" y2="186.20" stroke="#66a44a" stroke-width="1.4"/>
<text x="343.10" y="188.29" class="lg">BT3</text>
<line x1="394.40" y1="161.40" x2="394.40" y2="293.10" stroke="#2e2e2e" stroke-width="1.3"/>
<line x1="393.80" y1="292.50" x2="546.70" y2="292.50" stroke="#2e2e2e" stroke-width="1.3"/>
<line x1="392.20" y1="292.50" x2="394.40" y2="292.50" stroke="#2e2e2e" stroke-width="1"/>
<text x="392.00" y="294.34" text-anchor="end" class="t">0.00</text>
<line x1="392.20" y1="266.28" x2="394.40" y2="266.28" stroke="#2e2e2e" stroke-width="1"/>
<text x="392.00" y="268.12" text-anchor="end" class="t">0.02</text>
<line x1="392.20" y1="240.06" x2="394.40" y2="240.06" stroke="#2e2e2e" stroke-width="1"/>
<text x="392.00" y="241.90" text-anchor="end" class="t">0.04</text>
<line x1="392.20" y1="213.84" x2="394.40" y2="213.84" stroke="#2e2e2e" stroke-width="1"/>
<text x="392.00" y="215.68" text-anchor="end" class="t">0.06</text>
<line x1="392.20" y1="187.62" x2="394.40" y2="187.62" stroke="#2e2e2e" stroke-width="1"/>
<text x="392.00" y="189.46" text-anchor="end" class="t">0.08</text>
<line x1="392.20" y1="161.40" x2="394.40" y2="161.40" stroke="#2e2e2e" stroke-width="1"/>
<text x="392.00" y="163.24" text-anchor="end" class="t">0.10</text>
<line x1="394.40" y1="292.50" x2="394.40" y2="294.70" stroke="#2e2e2e" stroke-width="1"/>
<text x="394.40" y="300.14" text-anchor="middle" class="t">0</text>
<line x1="432.48" y1="292.50" x2="432.48" y2="294.70" stroke="#2e2e2e" stroke-width="1"/>
<text x="432.48" y="300.14" text-anchor="middle" class="t">2</text>
<line x1="470.56" y1="292.50" x2="470.56" y2="294.70" stroke="#2e2e2e" stroke-width="1"/>
<text x="470.56" y="300.14" text-anchor="middle" class="t">4</text>
<line x1="508.64" y1="292.50" x2="508.64" y2="294.70" stroke="#2e2e2e" stroke-width="1"/>
<text x="508.64" y="300.14" text-anchor="middle" class="t">6</text>
<line x1="546.72" y1="292.50" x2="546.72" y2="294.70" stroke="#2e2e2e" stroke-width="1"/>
<text x="546.72" y="300.14" text-anchor="middle" class="t">8</text>
<text transform="translate(378.60,227.60) rotate(-90)" text-anchor="middle" class="yl">Solubility (mg/ml)</text>
<text x="470.60" y="311.20" text-anchor="middle" class="ph">pH</text>
<path d="M395.30,216.40 C395.38,217.01 395.63,218.86 395.80,220.04 C395.97,221.22 396.13,222.37 396.30,223.48 C396.47,224.59 396.63,225.67 396.80,226.72 C396.97,227.77 397.13,228.79 397.30,229.78 C397.47,230.77 397.63,231.73 397.80,232.66 C397.97,233.59 398.13,234.49 398.30,235.37 C398.47,236.25 398.63,237.10 398.80,237.93 C398.97,238.76 399.13,239.57 399.30,240.35 C399.47,241.13 399.63,241.88 399.80,242.62 C399.97,243.36 400.13,244.07 400.30,244.77 C400.47,245.47 400.63,246.15 400.80,246.80 C400.97,247.46 401.13,248.08 401.30,248.70 C401.47,249.32 401.63,249.92 401.80,250.50 C401.97,251.08 402.13,251.65 402.30,252.20 C402.47,252.75 402.63,253.28 402.80,253.80 C402.97,254.32 403.13,254.82 403.30,255.31 C403.47,255.80 403.63,256.27 403.80,256.73 C403.97,257.19 404.13,257.64 404.30,258.07 C404.47,258.50 404.63,258.92 404.80,259.33 C404.97,259.74 405.13,260.14 405.30,260.53 C405.47,260.92 405.63,261.29 405.80,261.65 C405.97,262.01 406.13,262.37 406.30,262.71 C406.47,263.05 406.63,263.39 406.80,263.71 C406.97,264.03 407.13,264.34 407.30,264.65 C407.47,264.95 407.63,265.25 407.80,265.54 C407.97,265.83 408.13,266.11 408.30,266.38 C408.47,266.65 408.63,266.92 408.80,267.17 C408.97,267.43 409.13,267.67 409.30,267.91 C409.47,268.15 409.63,268.38 409.80,268.61 C409.97,268.84 410.13,269.06 410.30,269.28 C410.47,269.49 410.63,269.70 410.80,269.90 C410.97,270.10 411.13,270.30 411.30,270.49 C411.47,270.68 411.63,270.86 411.80,271.04 C411.97,271.22 412.13,271.40 412.30,271.57 C412.47,271.74 412.63,271.90 412.80,272.06 C412.97,272.22 413.13,272.37 413.30,272.52 C413.47,272.67 413.63,272.82 413.80,272.96 C413.97,273.10 414.13,273.25 414.30,273.38 C414.47,273.51 414.63,273.64 414.80,273.77 C414.97,273.89 415.05,273.96 415.30,274.13 C415.55,274.30 415.97,274.60 416.30,274.81 C416.63,275.02 416.97,275.22 417.30,275.41 C417.63,275.60 417.97,275.77 418.30,275.94 C418.63,276.11 418.97,276.26 419.30,276.41 C419.63,276.56 419.97,276.70 420.30,276.83 C420.63,276.96 420.97,277.09 421.30,277.21 C421.63,277.33 421.97,277.44 422.30,277.54 C422.63,277.64 422.97,277.74 423.30,277.83 C423.63,277.92 423.97,278.02 424.30,278.10 C424.63,278.18 424.97,278.26 425.30,278.33 C425.63,278.40 425.97,278.48 426.30,278.54 C426.63,278.61 426.97,278.66 427.30,278.72 C427.63,278.78 427.97,278.84 428.30,278.89 C428.63,278.94 428.97,278.98 429.30,279.03 C429.63,279.07 429.97,279.12 430.30,279.16 C430.63,279.20 430.97,279.24 431.30,279.28 C431.63,279.32 431.97,279.35 432.30,279.38 C432.63,279.41 432.97,279.44 433.30,279.47 C433.63,279.50 433.97,279.53 434.30,279.55 C434.63,279.57 434.97,279.60 435.30,279.62 C435.63,279.64 435.97,279.67 436.30,279.69 C436.63,279.71 436.97,279.72 437.30,279.74 C437.63,279.76 437.97,279.77 438.30,279.79 C438.63,279.81 438.97,279.82 439.30,279.84 C439.63,279.85 439.97,279.87 440.30,279.88 C440.63,279.89 440.97,279.91 441.30,279.92 C441.63,279.93 441.97,279.94 442.30,279.95 C442.63,279.96 442.97,279.96 443.30,279.97 C443.63,279.98 443.97,279.99 444.30,280.00 C444.63,280.01 444.97,280.01 445.30,280.02 C445.63,280.03 445.80,280.03 446.30,280.04 C446.80,280.05 447.63,280.06 448.30,280.07 C448.97,280.08 449.63,280.09 450.30,280.10 C450.97,280.11 451.63,280.11 452.30,280.12 C452.97,280.13 453.63,280.13 454.30,280.14 C454.97,280.14 455.63,280.15 456.30,280.15 C456.97,280.15 457.63,280.16 458.30,280.16 C458.97,280.16 459.63,280.17 460.30,280.17 C460.97,280.17 461.63,280.18 462.30,280.18 C462.97,280.18 463.63,280.18 464.30,280.18 C464.97,280.18 465.63,280.18 466.30,280.18 C466.97,280.18 467.63,280.19 468.30,280.19 C468.97,280.19 469.63,280.19 470.30,280.19 C470.97,280.19 471.63,280.19 472.30,280.19 C472.97,280.19 473.63,280.19 474.30,280.19 C474.97,280.19 475.63,280.19 476.30,280.19 C476.97,280.19 477.63,280.19 478.30,280.19 C478.97,280.19 479.63,280.20 480.30,280.20 C480.97,280.20 481.63,280.20 482.30,280.20 C482.97,280.20 483.63,280.20 484.30,280.20 C484.97,280.20 485.63,280.19 486.30,280.19 C486.97,280.19 487.63,280.19 488.30,280.19 C488.97,280.19 489.63,280.19 490.30,280.19 C490.97,280.19 491.63,280.19 492.30,280.19 C492.97,280.19 493.63,280.19 494.30,280.19 C494.97,280.19 495.63,280.19 496.30,280.19 C496.97,280.19 497.63,280.18 498.30,280.18 C498.97,280.18 499.63,280.18 500.30,280.18 C500.97,280.18 501.63,280.17 502.30,280.17 C502.97,280.17 503.63,280.16 504.30,280.16 C504.97,280.16 505.63,280.15 506.30,280.15 C506.97,280.15 507.80,280.14 508.30,280.14 C508.80,280.14 508.97,280.13 509.30,280.13 C509.63,280.13 509.97,280.13 510.30,280.13 C510.63,280.13 510.97,280.12 511.30,280.12 C511.63,280.12 511.97,280.11 512.30,280.10 C512.63,280.10 512.97,280.09 513.30,280.09 C513.63,280.09 513.97,280.08 514.30,280.08 C514.63,280.07 514.97,280.07 515.30,280.06 C515.63,280.05 515.97,280.05 516.30,280.04 C516.63,280.03 516.97,280.03 517.30,280.02 C517.63,280.01 517.97,280.01 518.30,280.00 C518.63,279.99 518.97,279.98 519.30,279.97 C519.63,279.96 519.97,279.95 520.30,279.94 C520.63,279.93 520.97,279.92 521.30,279.91 C521.63,279.90 521.97,279.88 522.30,279.87 C522.63,279.86 522.97,279.84 523.30,279.82 C523.63,279.80 523.97,279.79 524.30,279.77 C524.63,279.75 524.97,279.74 525.30,279.72 C525.63,279.70 525.97,279.67 526.30,279.65 C526.63,279.63 526.97,279.60 527.30,279.58 C527.63,279.56 527.97,279.53 528.30,279.50 C528.63,279.47 528.97,279.43 529.30,279.40 C529.63,279.37 529.97,279.34 530.30,279.30 C530.63,279.26 530.97,279.22 531.30,279.18 C531.63,279.14 531.97,279.09 532.30,279.04 C532.63,278.99 532.97,278.94 533.30,278.89 C533.63,278.83 533.97,278.77 534.30,278.71 C534.63,278.65 534.97,278.59 535.30,278.52 C535.63,278.45 535.97,278.37 536.30,278.29 C536.63,278.21 536.97,278.13 537.30,278.04 C537.63,277.95 537.97,277.85 538.30,277.75 C538.63,277.65 538.97,277.54 539.30,277.42 C539.63,277.30 539.97,277.18 540.30,277.05 C540.63,276.92 540.97,276.79 541.30,276.64 C541.63,276.49 541.97,276.33 542.30,276.16 C542.63,275.99 542.97,275.81 543.30,275.62 C543.63,275.43 543.97,275.23 544.30,275.01 C544.63,274.79 544.97,274.56 545.30,274.32 C545.63,274.07 546.07,273.73 546.30,273.54 C546.53,273.35 546.63,273.26 546.70,273.20" fill="none" stroke="#8e6248" stroke-width="1.20" stroke-linejoin="round" stroke-linecap="round"/>
<path d="M395.40,218.80 C395.48,219.42 395.73,221.32 395.90,222.53 C396.07,223.74 396.23,224.90 396.40,226.03 C396.57,227.16 396.73,228.25 396.90,229.31 C397.07,230.37 397.23,231.40 397.40,232.39 C397.57,233.38 397.73,234.34 397.90,235.27 C398.07,236.20 398.23,237.10 398.40,237.97 C398.57,238.84 398.73,239.68 398.90,240.50 C399.07,241.32 399.23,242.11 399.40,242.87 C399.57,243.63 399.73,244.37 399.90,245.09 C400.07,245.81 400.23,246.50 400.40,247.17 C400.57,247.84 400.73,248.49 400.90,249.12 C401.07,249.75 401.23,250.36 401.40,250.95 C401.57,251.54 401.73,252.11 401.90,252.66 C402.07,253.21 402.23,253.75 402.40,254.27 C402.57,254.79 402.73,255.29 402.90,255.77 C403.07,256.25 403.23,256.73 403.40,257.18 C403.57,257.63 403.73,258.07 403.90,258.50 C404.07,258.93 404.23,259.34 404.40,259.74 C404.57,260.14 404.73,260.52 404.90,260.90 C405.07,261.27 405.23,261.64 405.40,261.99 C405.57,262.34 405.73,262.68 405.90,263.01 C406.07,263.34 406.23,263.65 406.40,263.96 C406.57,264.27 406.73,264.57 406.90,264.86 C407.07,265.15 407.23,265.43 407.40,265.70 C407.57,265.97 407.73,266.23 407.90,266.48 C408.07,266.73 408.23,266.98 408.40,267.22 C408.57,267.46 408.73,267.69 408.90,267.91 C409.07,268.13 409.23,268.35 409.40,268.56 C409.57,268.77 409.73,268.97 409.90,269.16 C410.07,269.36 410.23,269.55 410.40,269.73 C410.57,269.91 410.73,270.09 410.90,270.26 C411.07,270.43 411.23,270.60 411.40,270.76 C411.57,270.92 411.73,271.08 411.90,271.23 C412.07,271.38 412.23,271.53 412.40,271.67 C412.57,271.81 412.73,271.95 412.90,272.08 C413.07,272.21 413.23,272.33 413.40,272.46 C413.57,272.58 413.73,272.71 413.90,272.83 C414.07,272.95 414.23,273.05 414.40,273.16 C414.57,273.27 414.73,273.38 414.90,273.48 C415.07,273.58 415.15,273.64 415.40,273.78 C415.65,273.92 416.07,274.15 416.40,274.32 C416.73,274.49 417.07,274.64 417.40,274.79 C417.73,274.94 418.07,275.07 418.40,275.20 C418.73,275.33 419.07,275.45 419.40,275.57 C419.73,275.69 420.07,275.79 420.40,275.89 C420.73,275.99 421.07,276.08 421.40,276.17 C421.73,276.26 422.07,276.34 422.40,276.42 C422.73,276.50 423.07,276.56 423.40,276.63 C423.73,276.70 424.07,276.77 424.40,276.83 C424.73,276.89 425.07,276.94 425.40,276.99 C425.73,277.04 426.07,277.09 426.40,277.14 C426.73,277.19 427.07,277.23 427.40,277.27 C427.73,277.31 428.07,277.34 428.40,277.38 C428.73,277.42 429.07,277.45 429.40,277.48 C429.73,277.51 430.07,277.54 430.40,277.57 C430.73,277.60 431.07,277.63 431.40,277.65 C431.73,277.67 432.07,277.69 432.40,277.71 C432.73,277.73 433.07,277.75 433.40,277.77 C433.73,277.79 434.07,277.80 434.40,277.82 C434.73,277.84 435.07,277.86 435.40,277.87 C435.73,277.88 436.07,277.90 436.40,277.91 C436.73,277.92 437.07,277.94 437.40,277.95 C437.73,277.96 438.07,277.97 438.40,277.98 C438.73,277.99 439.07,277.99 439.40,278.00 C439.73,278.01 440.07,278.02 440.40,278.03 C440.73,278.04 441.07,278.04 441.40,278.05 C441.73,278.06 442.07,278.06 442.40,278.07 C442.73,278.07 443.07,278.07 443.40,278.08 C443.73,278.08 444.07,278.10 444.40,278.10 C444.73,278.11 445.07,278.11 445.40,278.11 C445.73,278.11 445.90,278.12 446.40,278.12 C446.90,278.12 447.73,278.13 448.40,278.14 C449.07,278.14 449.73,278.15 450.40,278.15 C451.07,278.15 451.73,278.16 452.40,278.16 C453.07,278.16 453.73,278.17 454.40,278.17 C455.07,278.17 455.73,278.18 456.40,278.18 C457.07,278.18 457.73,278.18 458.40,278.18 C459.07,278.18 459.73,278.19 460.40,278.19 C461.07,278.19 461.73,278.19 462.40,278.19 C463.07,278.19 463.73,278.19 464.40,278.19 C465.07,278.19 465.73,278.19 466.40,278.19 C467.07,278.19 467.73,278.20 468.40,278.20 C469.07,278.20 469.73,278.20 470.40,278.20 C471.07,278.20 471.73,278.20 472.40,278.20 C473.07,278.20 473.73,278.20 474.40,278.20 C475.07,278.20 475.73,278.20 476.40,278.20 C477.07,278.20 477.73,278.20 478.40,278.20 C479.07,278.20 479.73,278.20 480.40,278.20 C481.07,278.20 481.73,278.20 482.40,278.20 C483.07,278.20 483.73,278.20 484.40,278.20 C485.07,278.20 485.73,278.20 486.40,278.20 C487.07,278.20 487.73,278.20 488.40,278.20 C489.07,278.20 489.73,278.20 490.40,278.20 C491.07,278.20 491.73,278.20 492.40,278.20 C493.07,278.20 493.73,278.20 494.40,278.20 C495.07,278.20 495.73,278.20 496.40,278.20 C497.07,278.20 497.73,278.19 498.40,278.19 C499.07,278.19 499.73,278.19 500.40,278.19 C501.07,278.19 501.73,278.19 502.40,278.19 C503.07,278.19 503.73,278.19 504.40,278.19 C505.07,278.19 505.73,278.18 506.40,278.18 C507.07,278.18 507.90,278.18 508.40,278.18 C508.90,278.18 509.07,278.18 509.40,278.18 C509.73,278.18 510.07,278.17 510.40,278.17 C510.73,278.17 511.07,278.17 511.40,278.17 C511.73,278.17 512.07,278.16 512.40,278.16 C512.73,278.16 513.07,278.16 513.40,278.16 C513.73,278.16 514.07,278.15 514.40,278.15 C514.73,278.15 515.07,278.15 515.40,278.15 C515.73,278.15 516.07,278.14 516.40,278.14 C516.73,278.14 517.07,278.13 517.40,278.13 C517.73,278.13 518.07,278.12 518.40,278.12 C518.73,278.12 519.07,278.11 519.40,278.11 C519.73,278.11 520.07,278.10 520.40,278.10 C520.73,278.10 521.07,278.09 521.40,278.09 C521.73,278.09 522.07,278.08 522.40,278.08 C522.73,278.07 523.07,278.07 523.40,278.06 C523.73,278.05 524.07,278.05 524.40,278.04 C524.73,278.03 525.07,278.03 525.40,278.02 C525.73,278.01 526.07,278.00 526.40,277.99 C526.73,277.98 527.07,277.98 527.40,277.97 C527.73,277.96 528.07,277.95 528.40,277.94 C528.73,277.93 529.07,277.91 529.40,277.90 C529.73,277.89 530.07,277.87 530.40,277.86 C530.73,277.85 531.07,277.84 531.40,277.82 C531.73,277.80 532.07,277.78 532.40,277.76 C532.73,277.74 533.07,277.73 533.40,277.71 C533.73,277.69 534.07,277.66 534.40,277.64 C534.73,277.62 535.07,277.60 535.40,277.57 C535.73,277.54 536.07,277.51 536.40,277.48 C536.73,277.45 537.07,277.42 537.40,277.39 C537.73,277.36 538.07,277.32 538.40,277.28 C538.73,277.24 539.07,277.20 539.40,277.16 C539.73,277.12 540.07,277.07 540.40,277.02 C540.73,276.97 541.07,276.92 541.40,276.86 C541.73,276.80 542.07,276.74 542.40,276.68 C542.73,276.62 543.07,276.55 543.40,276.48 C543.73,276.41 544.07,276.33 544.40,276.25 C544.73,276.17 545.07,276.08 545.40,275.99 C545.73,275.90 546.18,275.76 546.40,275.70 C546.62,275.63 546.65,275.62 546.70,275.60" fill="none" stroke="#3a2fbc" stroke-width="1.20" stroke-linejoin="round" stroke-linecap="round"/>
<path d="M395.70,171.30 C395.78,171.97 396.03,173.89 396.20,175.31 C396.37,176.73 396.53,178.30 396.70,179.81 C396.87,181.32 397.03,182.85 397.20,184.36 C397.37,185.87 397.53,187.38 397.70,188.87 C397.87,190.36 398.03,191.83 398.20,193.27 C398.37,194.71 398.53,196.13 398.70,197.53 C398.87,198.93 399.03,200.30 399.20,201.64 C399.37,202.98 399.53,204.30 399.70,205.59 C399.87,206.88 400.03,208.14 400.20,209.37 C400.37,210.60 400.53,211.81 400.70,212.98 C400.87,214.15 401.03,215.29 401.20,216.41 C401.37,217.53 401.53,218.62 401.70,219.68 C401.87,220.74 402.03,221.78 402.20,222.79 C402.37,223.80 402.53,224.77 402.70,225.73 C402.87,226.69 403.03,227.62 403.20,228.52 C403.37,229.43 403.53,230.31 403.70,231.16 C403.87,232.01 404.03,232.84 404.20,233.65 C404.37,234.46 404.53,235.24 404.70,236.00 C404.87,236.76 405.03,237.50 405.20,238.22 C405.37,238.94 405.53,239.64 405.70,240.32 C405.87,241.00 406.03,241.65 406.20,242.29 C406.37,242.93 406.53,243.55 406.70,244.15 C406.87,244.75 407.03,245.34 407.20,245.90 C407.37,246.47 407.53,247.01 407.70,247.54 C407.87,248.07 408.03,248.59 408.20,249.09 C408.37,249.59 408.53,250.07 408.70,250.54 C408.87,251.01 409.03,251.46 409.20,251.90 C409.37,252.34 409.53,252.77 409.70,253.18 C409.87,253.59 410.03,253.99 410.20,254.38 C410.37,254.77 410.53,255.14 410.70,255.50 C410.87,255.86 411.03,256.22 411.20,256.56 C411.37,256.90 411.53,257.22 411.70,257.54 C411.87,257.86 412.03,258.17 412.20,258.47 C412.37,258.77 412.53,259.05 412.70,259.33 C412.87,259.61 413.03,259.88 413.20,260.14 C413.37,260.40 413.53,260.65 413.70,260.90 C413.87,261.14 414.03,261.38 414.20,261.61 C414.37,261.84 414.53,262.06 414.70,262.27 C414.87,262.48 415.03,262.69 415.20,262.89 C415.37,263.09 415.45,263.20 415.70,263.47 C415.95,263.74 416.37,264.19 416.70,264.51 C417.03,264.83 417.37,265.14 417.70,265.42 C418.03,265.70 418.37,265.96 418.70,266.21 C419.03,266.46 419.37,266.68 419.70,266.90 C420.03,267.12 420.37,267.31 420.70,267.50 C421.03,267.69 421.37,267.86 421.70,268.02 C422.03,268.18 422.37,268.33 422.70,268.47 C423.03,268.61 423.37,268.74 423.70,268.86 C424.03,268.98 424.37,269.09 424.70,269.20 C425.03,269.31 425.37,269.40 425.70,269.49 C426.03,269.58 426.37,269.66 426.70,269.74 C427.03,269.82 427.37,269.89 427.70,269.96 C428.03,270.03 428.37,270.09 428.70,270.15 C429.03,270.21 429.37,270.26 429.70,270.31 C430.03,270.36 430.37,270.41 430.70,270.45 C431.03,270.49 431.37,270.53 431.70,270.57 C432.03,270.61 432.37,270.64 432.70,270.67 C433.03,270.70 433.37,270.73 433.70,270.76 C434.03,270.79 434.37,270.81 434.70,270.84 C435.03,270.87 435.37,270.89 435.70,270.91 C436.03,270.93 436.37,270.94 436.70,270.96 C437.03,270.98 437.37,271.00 437.70,271.01 C438.03,271.02 438.37,271.04 438.70,271.05 C439.03,271.06 439.37,271.08 439.70,271.09 C440.03,271.10 440.37,271.11 440.70,271.12 C441.03,271.13 441.37,271.14 441.70,271.15 C442.03,271.16 442.37,271.16 442.70,271.17 C443.03,271.18 443.37,271.19 443.70,271.19 C444.03,271.19 444.37,271.19 444.70,271.20 C445.03,271.20 445.37,271.22 445.70,271.22 C446.03,271.23 446.20,271.23 446.70,271.23 C447.20,271.24 448.03,271.25 448.70,271.25 C449.37,271.25 450.03,271.26 450.70,271.26 C451.37,271.26 452.03,271.27 452.70,271.27 C453.37,271.27 454.03,271.28 454.70,271.28 C455.37,271.28 456.03,271.29 456.70,271.29 C457.37,271.29 458.03,271.29 458.70,271.29 C459.37,271.29 460.03,271.29 460.70,271.29 C461.37,271.29 462.03,271.29 462.70,271.29 C463.37,271.29 464.03,271.30 464.70,271.30 C465.37,271.30 466.03,271.30 466.70,271.30 C467.37,271.30 468.03,271.30 468.70,271.30 C469.37,271.30 470.03,271.30 470.70,271.30 C471.37,271.30 472.03,271.30 472.70,271.30 C473.37,271.30 474.03,271.30 474.70,271.30 C475.37,271.30 476.03,271.30 476.70,271.30 C477.37,271.30 478.03,271.30 478.70,271.30 C479.37,271.30 480.03,271.30 480.70,271.30 C481.37,271.30 482.03,271.30 482.70,271.30 C483.37,271.30 484.03,271.29 484.70,271.29 C485.37,271.29 486.03,271.29 486.70,271.29 C487.37,271.29 488.03,271.29 488.70,271.29 C489.37,271.29 490.03,271.29 490.70,271.29 C491.37,271.29 492.03,271.28 492.70,271.28 C493.37,271.28 494.03,271.28 494.70,271.28 C495.37,271.28 496.03,271.27 496.70,271.27 C497.37,271.27 498.03,271.27 498.70,271.27 C499.37,271.27 500.03,271.26 500.70,271.26 C501.37,271.25 502.03,271.25 502.70,271.24 C503.37,271.24 504.03,271.24 504.70,271.23 C505.37,271.22 506.03,271.21 506.70,271.20 C507.37,271.19 508.20,271.19 508.70,271.18 C509.20,271.17 509.37,271.17 509.70,271.16 C510.03,271.15 510.37,271.15 510.70,271.14 C511.03,271.13 511.37,271.13 511.70,271.12 C512.03,271.11 512.37,271.10 512.70,271.09 C513.03,271.08 513.37,271.07 513.70,271.06 C514.03,271.05 514.37,271.04 514.70,271.03 C515.03,271.02 515.37,271.00 515.70,270.99 C516.03,270.98 516.37,270.96 516.70,270.95 C517.03,270.94 517.37,270.92 517.70,270.90 C518.03,270.88 518.37,270.87 518.70,270.85 C519.03,270.83 519.37,270.81 519.70,270.79 C520.03,270.77 520.37,270.75 520.70,270.72 C521.03,270.70 521.37,270.67 521.70,270.64 C522.03,270.61 522.37,270.58 522.70,270.55 C523.03,270.52 523.37,270.49 523.70,270.45 C524.03,270.41 524.37,270.37 524.70,270.33 C525.03,270.29 525.37,270.25 525.70,270.20 C526.03,270.15 526.37,270.11 526.70,270.05 C527.03,270.00 527.37,269.93 527.70,269.87 C528.03,269.81 528.37,269.75 528.70,269.68 C529.03,269.61 529.37,269.54 529.70,269.46 C530.03,269.38 530.37,269.29 530.70,269.20 C531.03,269.11 531.37,269.02 531.70,268.92 C532.03,268.82 532.37,268.71 532.70,268.59 C533.03,268.47 533.37,268.35 533.70,268.22 C534.03,268.09 534.37,267.95 534.70,267.80 C535.03,267.65 535.37,267.49 535.70,267.32 C536.03,267.15 536.37,266.97 536.70,266.78 C537.03,266.59 537.37,266.38 537.70,266.16 C538.03,265.94 538.37,265.71 538.70,265.46 C539.03,265.21 539.37,264.95 539.70,264.66 C540.03,264.38 540.37,264.07 540.70,263.75 C541.03,263.43 541.37,263.08 541.70,262.71 C542.03,262.34 542.37,261.96 542.70,261.54 C543.03,261.12 543.37,260.68 543.70,260.20 C544.03,259.72 544.37,259.23 544.70,258.69 C545.03,258.15 545.37,257.57 545.70,256.96 C546.03,256.34 546.53,255.33 546.70,255.00" fill="none" stroke="#66a44a" stroke-width="1.20" stroke-linejoin="round" stroke-linecap="round"/>
<line x1="515.70" y1="189.60" x2="524.30" y2="189.60" stroke="#8e6248" stroke-width="1.4"/>
<text x="527.70" y="191.69" class="lg">BM5</text>
<line x1="515.70" y1="197.60" x2="524.30" y2="197.60" stroke="#3a2fbc" stroke-width="1.4"/>
<text x="527.70" y="199.69" class="lg">BC5</text>
<line x1="515.70" y1="205.70" x2="524.30" y2="205.70" stroke="#66a44a" stroke-width="1.4"/>
<text x="527.70" y="207.79" class="lg">BT5</text>
</svg>
</body></html>
